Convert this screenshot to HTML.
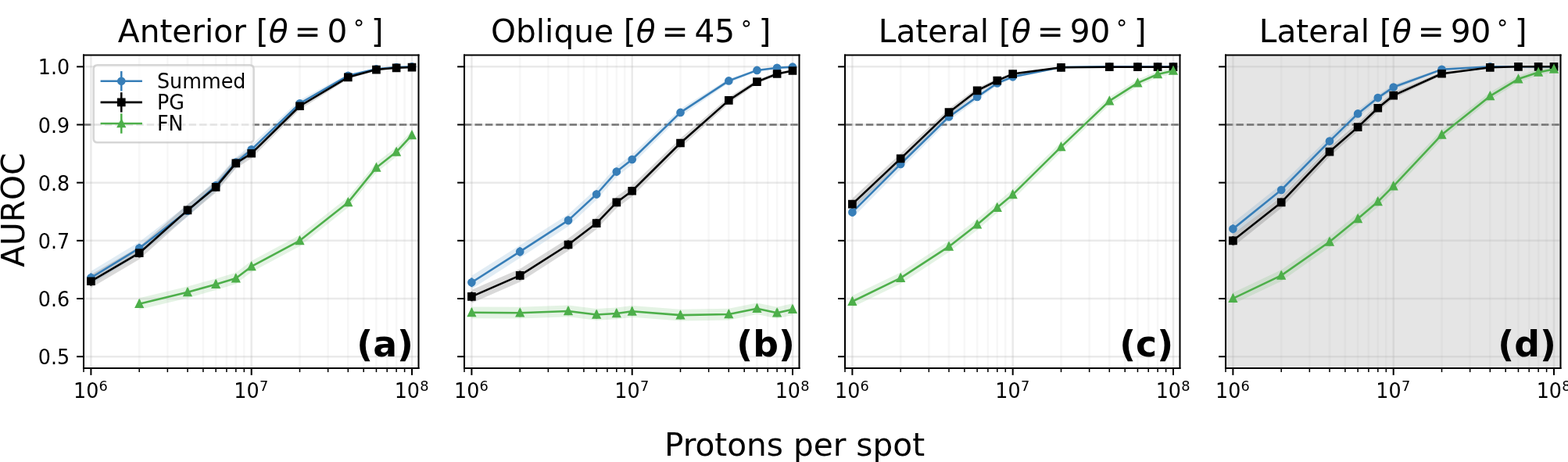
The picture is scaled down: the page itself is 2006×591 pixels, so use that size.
<!DOCTYPE html>
<html><head><meta charset="utf-8"><title>AUROC vs protons per spot</title>
<style>html,body{margin:0;padding:0;background:#fff;overflow:hidden;}svg{display:block;}</style>
</head><body>
<svg width="2006" height="591" viewBox="0 0 789.76378 232.677165" version="1.1">
<defs>
<style type="text/css">*{stroke-linejoin: round; stroke-linecap: butt}</style>
</defs>
<g id="figure_1">
<g id="patch_1">
<path d="M 0 232.677165
L 789.76378 232.677165
L 789.76378 0
L 0 0
z
" style="fill: #ffffff"/>
</g>
<g id="axes_1">
<g id="patch_2">
<path d="M 42.125984 185.433071
L 210.826772 185.433071
L 210.826772 27.755906
L 42.125984 27.755906
z
" style="fill: #ffffff"/>
</g>
<g id="line2d_1">
<path d="M 42.125984 62.795276
L 210.826772 62.795276
" clip-path="url(#pc32dbdda73)" style="fill: none; stroke-dasharray: 3.7,1.6; stroke-dashoffset: 0; stroke: #5f5f5f"/>
</g>
<g id="FillBetweenPolyCollection_1">
<defs>
<path id="m0ebc596f77" d="M 45.824484 -96.099709
L 45.824484 -89.490842
L 70.156225 -104.502099
L 94.487966 -123.552182
L 108.721122 -136.448893
L 118.819707 -148.351541
L 126.652778 -154.920042
L 150.984519 -178.891166
L 175.31626 -193.728619
L 189.549416 -197.459049
L 199.648001 -198.532714
L 207.481072 -198.944127
L 207.481072 -199.218602
L 207.481072 -199.218602
L 199.648001 -199.046026
L 189.549416 -198.367723
L 175.31626 -195.440672
L 150.984519 -182.246629
L 126.652778 -159.732189
L 118.819707 -153.452921
L 108.721122 -141.995989
L 94.487966 -129.489157
L 70.156225 -110.871917
L 45.824484 -96.099709
z
"/>
</defs>
<g clip-path="url(#pc32dbdda73)">
<use href="#m0ebc596f77" x="0" y="232.677165" style="fill: #377eb8; fill-opacity: 0.15"/>
</g>
</g>
<g id="FillBetweenPolyCollection_2">
<defs>
<path id="mf60cecff38" d="M 45.824484 -94.359092
L 45.824484 -87.727522
L 70.156225 -102.026723
L 94.487966 -123.848176
L 108.721122 -135.64708
L 118.819707 -147.874498
L 126.652778 -152.947619
L 150.984519 -177.49283
L 175.31626 -192.839596
L 189.549416 -197.118317
L 199.648001 -198.161494
L 207.481072 -198.532714
L 207.481072 -199.046026
L 207.481072 -199.046026
L 199.648001 -198.833257
L 189.549416 -198.124465
L 175.31626 -194.694525
L 150.984519 -180.958614
L 126.652778 -157.850281
L 118.819707 -152.995581
L 108.721122 -141.221031
L 94.487966 -129.777152
L 70.156225 -108.441781
L 45.824484 -94.359092
z
"/>
</defs>
<g clip-path="url(#pc32dbdda73)">
<use href="#mf60cecff38" x="0" y="232.677165" style="fill-opacity: 0.15"/>
</g>
</g>
<g id="FillBetweenPolyCollection_3">
<defs>
<path id="m2446808192" d="M 70.156225 -82.546199
L 70.156225 -76.764825
L 94.487966 -82.619177
L 108.721122 -86.631149
L 118.819707 -89.648401
L 126.652778 -95.626792
L 150.984519 -108.709255
L 175.31626 -128.103145
L 189.549416 -145.777923
L 199.648001 -153.749393
L 207.481072 -162.327607
L 207.481072 -166.924362
L 207.481072 -166.924362
L 199.648001 -158.56688
L 189.549416 -150.770633
L 175.31626 -133.406042
L 150.984519 -114.256624
L 126.652778 -101.293156
L 118.819707 -95.358161
L 108.721122 -92.360321
L 94.487966 -88.371637
L 70.156225 -82.546199
z
"/>
</defs>
<g clip-path="url(#pc32dbdda73)">
<use href="#m2446808192" x="0" y="232.677165" style="fill: #4daf4a; fill-opacity: 0.15"/>
</g>
</g>
<g id="matplotlib.axis_1">
<g id="xtick_1">
<g id="line2d_2">
<path d="M 45.824484 185.433071
L 45.824484 27.755906
" clip-path="url(#pc32dbdda73)" style="fill: none; stroke: #b0b0b0; stroke-opacity: 0.27; stroke-linecap: square"/>
</g>
<g id="line2d_3">
<defs>
<path id="m1504cfccaf" d="M 0 0
L 0 3.5
" style="stroke: #000000; stroke-width: 0.8"/>
</defs>
<g>
<use href="#m1504cfccaf" x="45.824484" y="185.433071" style="stroke: #000000; stroke-width: 0.8"/>
</g>
</g>
<g id="text_1">
<!-- $\mathdefault{10^{6}}$ -->
<g transform="translate(37.024484 200.031508) translate(0 -3.2828) scale(1 1.0300) translate(0 3.2828)">
<text>
<tspan x="0" y="0.3622" style="font-size: 10px; font-family: 'DejaVu Sans', sans-serif">1</tspan>
<tspan x="6.362305" y="0.3622" style="font-size: 10px; font-family: 'DejaVu Sans', sans-serif">0</tspan>
<tspan x="12.820312" y="-3.3159" style="font-size: 7px; font-family: 'DejaVu Sans', sans-serif">6</tspan>
</text>
</g>
</g>
</g>
<g id="xtick_2">
<g id="line2d_4">
<path d="M 126.652778 185.433071
L 126.652778 27.755906
" clip-path="url(#pc32dbdda73)" style="fill: none; stroke: #b0b0b0; stroke-opacity: 0.27; stroke-linecap: square"/>
</g>
<g id="line2d_5">
<g>
<use href="#m1504cfccaf" x="126.652778" y="185.433071" style="stroke: #000000; stroke-width: 0.8"/>
</g>
</g>
<g id="text_2">
<!-- $\mathdefault{10^{7}}$ -->
<g transform="translate(117.852778 200.031508) translate(0 -3.2828) scale(1 1.0300) translate(0 3.2828)">
<text>
<tspan x="0" y="0.3622" style="font-size: 10px; font-family: 'DejaVu Sans', sans-serif">1</tspan>
<tspan x="6.362305" y="0.3622" style="font-size: 10px; font-family: 'DejaVu Sans', sans-serif">0</tspan>
<tspan x="12.820312" y="-3.3159" style="font-size: 7px; font-family: 'DejaVu Sans', sans-serif">7</tspan>
</text>
</g>
</g>
</g>
<g id="xtick_3">
<g id="line2d_6">
<path d="M 207.481072 185.433071
L 207.481072 27.755906
" clip-path="url(#pc32dbdda73)" style="fill: none; stroke: #b0b0b0; stroke-opacity: 0.27; stroke-linecap: square"/>
</g>
<g id="line2d_7">
<g>
<use href="#m1504cfccaf" x="207.481072" y="185.433071" style="stroke: #000000; stroke-width: 0.8"/>
</g>
</g>
<g id="text_3">
<!-- $\mathdefault{10^{8}}$ -->
<g transform="translate(198.681072 200.031508) translate(0 -3.2828) scale(1 1.0300) translate(0 3.2828)">
<text>
<tspan x="0" y="0.3622" style="font-size: 10px; font-family: 'DejaVu Sans', sans-serif">1</tspan>
<tspan x="6.362305" y="0.3622" style="font-size: 10px; font-family: 'DejaVu Sans', sans-serif">0</tspan>
<tspan x="12.820312" y="-3.3159" style="font-size: 7px; font-family: 'DejaVu Sans', sans-serif">8</tspan>
</text>
</g>
</g>
</g>
<g id="xtick_4">
<g id="line2d_8">
<path d="M 42.125984 185.433071
L 42.125984 27.755906
" clip-path="url(#pc32dbdda73)" style="fill: none; stroke: #b0b0b0; stroke-opacity: 0.1; stroke-linecap: square"/>
</g>
<g id="line2d_9">
<defs>
<path id="m05db3bdf9b" d="M 0 0
L 0 2
" style="stroke: #000000; stroke-width: 0.6"/>
</defs>
<g>
<use href="#m05db3bdf9b" x="42.125984" y="185.433071" style="stroke: #000000; stroke-width: 0.6"/>
</g>
</g>
</g>
<g id="xtick_5">
<g id="line2d_10">
<path d="M 70.156225 185.433071
L 70.156225 27.755906
" clip-path="url(#pc32dbdda73)" style="fill: none; stroke: #b0b0b0; stroke-opacity: 0.1; stroke-linecap: square"/>
</g>
<g id="line2d_11">
<g>
<use href="#m05db3bdf9b" x="70.156225" y="185.433071" style="stroke: #000000; stroke-width: 0.6"/>
</g>
</g>
</g>
<g id="xtick_6">
<g id="line2d_12">
<path d="M 84.389381 185.433071
L 84.389381 27.755906
" clip-path="url(#pc32dbdda73)" style="fill: none; stroke: #b0b0b0; stroke-opacity: 0.1; stroke-linecap: square"/>
</g>
<g id="line2d_13">
<g>
<use href="#m05db3bdf9b" x="84.389381" y="185.433071" style="stroke: #000000; stroke-width: 0.6"/>
</g>
</g>
</g>
<g id="xtick_7">
<g id="line2d_14">
<path d="M 94.487966 185.433071
L 94.487966 27.755906
" clip-path="url(#pc32dbdda73)" style="fill: none; stroke: #b0b0b0; stroke-opacity: 0.1; stroke-linecap: square"/>
</g>
<g id="line2d_15">
<g>
<use href="#m05db3bdf9b" x="94.487966" y="185.433071" style="stroke: #000000; stroke-width: 0.6"/>
</g>
</g>
</g>
<g id="xtick_8">
<g id="line2d_16">
<path d="M 102.321037 185.433071
L 102.321037 27.755906
" clip-path="url(#pc32dbdda73)" style="fill: none; stroke: #b0b0b0; stroke-opacity: 0.1; stroke-linecap: square"/>
</g>
<g id="line2d_17">
<g>
<use href="#m05db3bdf9b" x="102.321037" y="185.433071" style="stroke: #000000; stroke-width: 0.6"/>
</g>
</g>
</g>
<g id="xtick_9">
<g id="line2d_18">
<path d="M 108.721122 185.433071
L 108.721122 27.755906
" clip-path="url(#pc32dbdda73)" style="fill: none; stroke: #b0b0b0; stroke-opacity: 0.1; stroke-linecap: square"/>
</g>
<g id="line2d_19">
<g>
<use href="#m05db3bdf9b" x="108.721122" y="185.433071" style="stroke: #000000; stroke-width: 0.6"/>
</g>
</g>
</g>
<g id="xtick_10">
<g id="line2d_20">
<path d="M 114.132317 185.433071
L 114.132317 27.755906
" clip-path="url(#pc32dbdda73)" style="fill: none; stroke: #b0b0b0; stroke-opacity: 0.1; stroke-linecap: square"/>
</g>
<g id="line2d_21">
<g>
<use href="#m05db3bdf9b" x="114.132317" y="185.433071" style="stroke: #000000; stroke-width: 0.6"/>
</g>
</g>
</g>
<g id="xtick_11">
<g id="line2d_22">
<path d="M 118.819707 185.433071
L 118.819707 27.755906
" clip-path="url(#pc32dbdda73)" style="fill: none; stroke: #b0b0b0; stroke-opacity: 0.1; stroke-linecap: square"/>
</g>
<g id="line2d_23">
<g>
<use href="#m05db3bdf9b" x="118.819707" y="185.433071" style="stroke: #000000; stroke-width: 0.6"/>
</g>
</g>
</g>
<g id="xtick_12">
<g id="line2d_24">
<path d="M 122.954278 185.433071
L 122.954278 27.755906
" clip-path="url(#pc32dbdda73)" style="fill: none; stroke: #b0b0b0; stroke-opacity: 0.1; stroke-linecap: square"/>
</g>
<g id="line2d_25">
<g>
<use href="#m05db3bdf9b" x="122.954278" y="185.433071" style="stroke: #000000; stroke-width: 0.6"/>
</g>
</g>
</g>
<g id="xtick_13">
<g id="line2d_26">
<path d="M 150.984519 185.433071
L 150.984519 27.755906
" clip-path="url(#pc32dbdda73)" style="fill: none; stroke: #b0b0b0; stroke-opacity: 0.1; stroke-linecap: square"/>
</g>
<g id="line2d_27">
<g>
<use href="#m05db3bdf9b" x="150.984519" y="185.433071" style="stroke: #000000; stroke-width: 0.6"/>
</g>
</g>
</g>
<g id="xtick_14">
<g id="line2d_28">
<path d="M 165.217675 185.433071
L 165.217675 27.755906
" clip-path="url(#pc32dbdda73)" style="fill: none; stroke: #b0b0b0; stroke-opacity: 0.1; stroke-linecap: square"/>
</g>
<g id="line2d_29">
<g>
<use href="#m05db3bdf9b" x="165.217675" y="185.433071" style="stroke: #000000; stroke-width: 0.6"/>
</g>
</g>
</g>
<g id="xtick_15">
<g id="line2d_30">
<path d="M 175.31626 185.433071
L 175.31626 27.755906
" clip-path="url(#pc32dbdda73)" style="fill: none; stroke: #b0b0b0; stroke-opacity: 0.1; stroke-linecap: square"/>
</g>
<g id="line2d_31">
<g>
<use href="#m05db3bdf9b" x="175.31626" y="185.433071" style="stroke: #000000; stroke-width: 0.6"/>
</g>
</g>
</g>
<g id="xtick_16">
<g id="line2d_32">
<path d="M 183.149331 185.433071
L 183.149331 27.755906
" clip-path="url(#pc32dbdda73)" style="fill: none; stroke: #b0b0b0; stroke-opacity: 0.1; stroke-linecap: square"/>
</g>
<g id="line2d_33">
<g>
<use href="#m05db3bdf9b" x="183.149331" y="185.433071" style="stroke: #000000; stroke-width: 0.6"/>
</g>
</g>
</g>
<g id="xtick_17">
<g id="line2d_34">
<path d="M 189.549416 185.433071
L 189.549416 27.755906
" clip-path="url(#pc32dbdda73)" style="fill: none; stroke: #b0b0b0; stroke-opacity: 0.1; stroke-linecap: square"/>
</g>
<g id="line2d_35">
<g>
<use href="#m05db3bdf9b" x="189.549416" y="185.433071" style="stroke: #000000; stroke-width: 0.6"/>
</g>
</g>
</g>
<g id="xtick_18">
<g id="line2d_36">
<path d="M 194.96061 185.433071
L 194.96061 27.755906
" clip-path="url(#pc32dbdda73)" style="fill: none; stroke: #b0b0b0; stroke-opacity: 0.1; stroke-linecap: square"/>
</g>
<g id="line2d_37">
<g>
<use href="#m05db3bdf9b" x="194.96061" y="185.433071" style="stroke: #000000; stroke-width: 0.6"/>
</g>
</g>
</g>
<g id="xtick_19">
<g id="line2d_38">
<path d="M 199.648001 185.433071
L 199.648001 27.755906
" clip-path="url(#pc32dbdda73)" style="fill: none; stroke: #b0b0b0; stroke-opacity: 0.1; stroke-linecap: square"/>
</g>
<g id="line2d_39">
<g>
<use href="#m05db3bdf9b" x="199.648001" y="185.433071" style="stroke: #000000; stroke-width: 0.6"/>
</g>
</g>
</g>
<g id="xtick_20">
<g id="line2d_40">
<path d="M 203.782572 185.433071
L 203.782572 27.755906
" clip-path="url(#pc32dbdda73)" style="fill: none; stroke: #b0b0b0; stroke-opacity: 0.1; stroke-linecap: square"/>
</g>
<g id="line2d_41">
<g>
<use href="#m05db3bdf9b" x="203.782572" y="185.433071" style="stroke: #000000; stroke-width: 0.6"/>
</g>
</g>
</g>
</g>
<g id="matplotlib.axis_2">
<g id="ytick_1">
<g id="line2d_42">
<path d="M 42.125984 179.593176
L 210.826772 179.593176
" clip-path="url(#pc32dbdda73)" style="fill: none; stroke: #b0b0b0; stroke-opacity: 0.27; stroke-linecap: square"/>
</g>
<g id="line2d_43">
<defs>
<path id="m5d545ce8f8" d="M 0 0
L -3.5 0
" style="stroke: #000000; stroke-width: 0.8"/>
</defs>
<g>
<use href="#m5d545ce8f8" x="42.125984" y="179.593176" style="stroke: #000000; stroke-width: 0.8"/>
</g>
</g>
<g id="text_4">
<text style="font-size: 10px; font-family: 'DejaVu Sans', 'Liberation Sans', sans-serif; text-anchor: end" x="35.125984" y="183.392395" transform="translate(0 179.7474) scale(1 1.0450) translate(0 -179.7474)">0.5</text>
</g>
</g>
<g id="ytick_2">
<g id="line2d_44">
<path d="M 42.125984 150.393701
L 210.826772 150.393701
" clip-path="url(#pc32dbdda73)" style="fill: none; stroke: #b0b0b0; stroke-opacity: 0.27; stroke-linecap: square"/>
</g>
<g id="line2d_45">
<g>
<use href="#m5d545ce8f8" x="42.125984" y="150.393701" style="stroke: #000000; stroke-width: 0.8"/>
</g>
</g>
<g id="text_5">
<text style="font-size: 10px; font-family: 'DejaVu Sans', 'Liberation Sans', sans-serif; text-anchor: end" x="35.125984" y="154.19292" transform="translate(0 150.5479) scale(1 1.0450) translate(0 -150.5479)">0.6</text>
</g>
</g>
<g id="ytick_3">
<g id="line2d_46">
<path d="M 42.125984 121.194226
L 210.826772 121.194226
" clip-path="url(#pc32dbdda73)" style="fill: none; stroke: #b0b0b0; stroke-opacity: 0.27; stroke-linecap: square"/>
</g>
<g id="line2d_47">
<g>
<use href="#m5d545ce8f8" x="42.125984" y="121.194226" style="stroke: #000000; stroke-width: 0.8"/>
</g>
</g>
<g id="text_6">
<text style="font-size: 10px; font-family: 'DejaVu Sans', 'Liberation Sans', sans-serif; text-anchor: end" x="35.125984" y="124.993444" transform="translate(0 121.3484) scale(1 1.0450) translate(0 -121.3484)">0.7</text>
</g>
</g>
<g id="ytick_4">
<g id="line2d_48">
<path d="M 42.125984 91.994751
L 210.826772 91.994751
" clip-path="url(#pc32dbdda73)" style="fill: none; stroke: #b0b0b0; stroke-opacity: 0.27; stroke-linecap: square"/>
</g>
<g id="line2d_49">
<g>
<use href="#m5d545ce8f8" x="42.125984" y="91.994751" style="stroke: #000000; stroke-width: 0.8"/>
</g>
</g>
<g id="text_7">
<text style="font-size: 10px; font-family: 'DejaVu Sans', 'Liberation Sans', sans-serif; text-anchor: end" x="35.125984" y="95.793969" transform="translate(0 92.1490) scale(1 1.0450) translate(0 -92.1490)">0.8</text>
</g>
</g>
<g id="ytick_5">
<g id="line2d_50">
<path d="M 42.125984 62.795276
L 210.826772 62.795276
" clip-path="url(#pc32dbdda73)" style="fill: none; stroke: #b0b0b0; stroke-opacity: 0.27; stroke-linecap: square"/>
</g>
<g id="line2d_51">
<g>
<use href="#m5d545ce8f8" x="42.125984" y="62.795276" style="stroke: #000000; stroke-width: 0.8"/>
</g>
</g>
<g id="text_8">
<text style="font-size: 10px; font-family: 'DejaVu Sans', 'Liberation Sans', sans-serif; text-anchor: end" x="35.125984" y="66.594494" transform="translate(0 62.9495) scale(1 1.0450) translate(0 -62.9495)">0.9</text>
</g>
</g>
<g id="ytick_6">
<g id="line2d_52">
<path d="M 42.125984 33.595801
L 210.826772 33.595801
" clip-path="url(#pc32dbdda73)" style="fill: none; stroke: #b0b0b0; stroke-opacity: 0.27; stroke-linecap: square"/>
</g>
<g id="line2d_53">
<g>
<use href="#m5d545ce8f8" x="42.125984" y="33.595801" style="stroke: #000000; stroke-width: 0.8"/>
</g>
</g>
<g id="text_9">
<text style="font-size: 10px; font-family: 'DejaVu Sans', 'Liberation Sans', sans-serif; text-anchor: end" x="35.125984" y="37.395019" transform="translate(0 33.7500) scale(1 1.0450) translate(0 -33.7500)">1.0</text>
</g>
</g>
<g id="ylabel" transform="translate(0.118 -0.787)">
<text style="font-size: 16px; font-family: 'DejaVu Sans', 'Liberation Sans', sans-serif; text-anchor: middle" x="11.895359" y="106.594488" transform="rotate(-90 11.895359 106.594488)">AUROC</text>
</g>
</g>
<g id="LineCollection_1">
<path d="M 45.824484 142.194993
L 45.824484 137.568786
" clip-path="url(#pc32dbdda73)" style="fill: none; stroke: #377eb8"/>
<path d="M 70.156225 127.219594
L 70.156225 122.760721
" clip-path="url(#pc32dbdda73)" style="fill: none; stroke: #377eb8"/>
<path d="M 94.487966 108.234437
L 94.487966 104.078555
" clip-path="url(#pc32dbdda73)" style="fill: none; stroke: #377eb8"/>
<path d="M 108.721122 95.396208
L 108.721122 91.513241
" clip-path="url(#pc32dbdda73)" style="fill: none; stroke: #377eb8"/>
<path d="M 118.819707 83.560417
L 118.819707 79.989452
" clip-path="url(#pc32dbdda73)" style="fill: none; stroke: #377eb8"/>
<path d="M 126.652778 77.035302
L 126.652778 73.666798
" clip-path="url(#pc32dbdda73)" style="fill: none; stroke: #377eb8"/>
<path d="M 150.984519 53.28268
L 150.984519 50.933856
" clip-path="url(#pc32dbdda73)" style="fill: none; stroke: #377eb8"/>
<path d="M 175.31626 38.691738
L 175.31626 37.493301
" clip-path="url(#pc32dbdda73)" style="fill: none; stroke: #377eb8"/>
<path d="M 189.549416 35.081815
L 189.549416 34.445744
" clip-path="url(#pc32dbdda73)" style="fill: none; stroke: #377eb8"/>
<path d="M 199.648001 34.067455
L 199.648001 33.708136
" clip-path="url(#pc32dbdda73)" style="fill: none; stroke: #377eb8"/>
<path d="M 207.481072 33.691867
L 207.481072 33.499734
" clip-path="url(#pc32dbdda73)" style="fill: none; stroke: #377eb8"/>
</g>
<g id="LineCollection_2">
<path d="M 45.824484 143.954908
L 45.824484 139.312809
" clip-path="url(#pc32dbdda73)" style="fill: none; stroke: #000000"/>
<path d="M 70.156225 129.688184
L 70.156225 125.197643
" clip-path="url(#pc32dbdda73)" style="fill: none; stroke: #000000"/>
<path d="M 94.487966 107.939643
L 94.487966 103.78936
" clip-path="url(#pc32dbdda73)" style="fill: none; stroke: #000000"/>
<path d="M 108.721122 96.193993
L 108.721122 92.292227
" clip-path="url(#pc32dbdda73)" style="fill: none; stroke: #000000"/>
<path d="M 118.819707 84.034505
L 118.819707 80.449747
" clip-path="url(#pc32dbdda73)" style="fill: none; stroke: #000000"/>
<path d="M 126.652778 78.994147
L 126.652778 75.562283
" clip-path="url(#pc32dbdda73)" style="fill: none; stroke: #000000"/>
<path d="M 150.984519 54.664468
L 150.984519 52.238419
" clip-path="url(#pc32dbdda73)" style="fill: none; stroke: #000000"/>
<path d="M 175.31626 39.55933
L 175.31626 38.26088
" clip-path="url(#pc32dbdda73)" style="fill: none; stroke: #000000"/>
<path d="M 189.549416 35.407926
L 189.549416 34.703622
" clip-path="url(#pc32dbdda73)" style="fill: none; stroke: #000000"/>
<path d="M 199.648001 34.414907
L 199.648001 33.944673
" clip-path="url(#pc32dbdda73)" style="fill: none; stroke: #000000"/>
<path d="M 207.481072 34.067455
L 207.481072 33.708136
" clip-path="url(#pc32dbdda73)" style="fill: none; stroke: #000000"/>
</g>
<g id="LineCollection_3">
<path clip-path="url(#pc32dbdda73)" style="fill: none; stroke: #4daf4a"/>
<path d="M 70.156225 155.045134
L 70.156225 150.998173
" clip-path="url(#pc32dbdda73)" style="fill: none; stroke: #4daf4a"/>
<path d="M 94.487966 149.19512
L 94.487966 145.168397
" clip-path="url(#pc32dbdda73)" style="fill: none; stroke: #4daf4a"/>
<path d="M 108.721122 145.186641
L 108.721122 141.17622
" clip-path="url(#pc32dbdda73)" style="fill: none; stroke: #4daf4a"/>
<path d="M 118.819707 142.1723
L 118.819707 138.175469
" clip-path="url(#pc32dbdda73)" style="fill: none; stroke: #4daf4a"/>
<path d="M 126.652778 136.200419
L 126.652778 132.233964
" clip-path="url(#pc32dbdda73)" style="fill: none; stroke: #4daf4a"/>
<path d="M 150.984519 123.135805
L 150.984519 119.252646
" clip-path="url(#pc32dbdda73)" style="fill: none; stroke: #4daf4a"/>
<path d="M 175.31626 103.778586
L 175.31626 100.066558
" clip-path="url(#pc32dbdda73)" style="fill: none; stroke: #4daf4a"/>
<path d="M 189.549416 86.150335
L 189.549416 82.655439
" clip-path="url(#pc32dbdda73)" style="fill: none; stroke: #4daf4a"/>
<path d="M 199.648001 78.20515
L 199.648001 74.832908
" clip-path="url(#pc32dbdda73)" style="fill: none; stroke: #4daf4a"/>
<path d="M 207.481072 69.660045
L 207.481072 66.442317
" clip-path="url(#pc32dbdda73)" style="fill: none; stroke: #4daf4a"/>
</g>
<g id="line2d_54">
<path d="M 45.824484 139.88189
L 70.156225 124.990157
L 94.487966 106.156496
L 108.721122 93.454724
L 118.819707 81.774934
L 126.652778 75.35105
L 150.984519 52.108268
L 175.31626 38.09252
L 189.549416 34.76378
L 199.648001 33.887795
L 207.481072 33.595801
" clip-path="url(#pc32dbdda73)" style="fill: none; stroke: #377eb8; stroke-linecap: square"/>
<defs>
<path id="mbeab2f4ac7" d="M 0 1.6
C 0.424325 1.6 0.831328 1.431414 1.131371 1.131371
C 1.431414 0.831328 1.6 0.424325 1.6 0
C 1.6 -0.424325 1.431414 -0.831328 1.131371 -1.131371
C 0.831328 -1.431414 0.424325 -1.6 0 -1.6
C -0.424325 -1.6 -0.831328 -1.431414 -1.131371 -1.131371
C -1.431414 -0.831328 -1.6 -0.424325 -1.6 0
C -1.6 0.424325 -1.431414 0.831328 -1.131371 1.131371
C -0.831328 1.431414 -0.424325 1.6 0 1.6
z
" style="stroke: #377eb8"/>
</defs>
<g clip-path="url(#pc32dbdda73)">
<use href="#mbeab2f4ac7" x="45.824484" y="139.88189" style="fill: #377eb8; stroke: #377eb8"/>
<use href="#mbeab2f4ac7" x="70.156225" y="124.990157" style="fill: #377eb8; stroke: #377eb8"/>
<use href="#mbeab2f4ac7" x="94.487966" y="106.156496" style="fill: #377eb8; stroke: #377eb8"/>
<use href="#mbeab2f4ac7" x="108.721122" y="93.454724" style="fill: #377eb8; stroke: #377eb8"/>
<use href="#mbeab2f4ac7" x="118.819707" y="81.774934" style="fill: #377eb8; stroke: #377eb8"/>
<use href="#mbeab2f4ac7" x="126.652778" y="75.35105" style="fill: #377eb8; stroke: #377eb8"/>
<use href="#mbeab2f4ac7" x="150.984519" y="52.108268" style="fill: #377eb8; stroke: #377eb8"/>
<use href="#mbeab2f4ac7" x="175.31626" y="38.09252" style="fill: #377eb8; stroke: #377eb8"/>
<use href="#mbeab2f4ac7" x="189.549416" y="34.76378" style="fill: #377eb8; stroke: #377eb8"/>
<use href="#mbeab2f4ac7" x="199.648001" y="33.887795" style="fill: #377eb8; stroke: #377eb8"/>
<use href="#mbeab2f4ac7" x="207.481072" y="33.595801" style="fill: #377eb8; stroke: #377eb8"/>
</g>
</g>
<g id="line2d_55">
<path d="M 45.824484 141.633858
L 70.156225 127.442913
L 94.487966 105.864501
L 108.721122 94.24311
L 118.819707 82.242126
L 126.652778 77.278215
L 150.984519 53.451444
L 175.31626 38.910105
L 189.549416 35.055774
L 199.648001 34.17979
L 207.481072 33.887795
" clip-path="url(#pc32dbdda73)" style="fill: none; stroke: #000000; stroke-linecap: square"/>
<defs>
<path id="m93d858a820" d="M -1.6 1.6
L 1.6 1.6
L 1.6 -1.6
L -1.6 -1.6
z
" style="stroke: #000000; stroke-linejoin: miter"/>
</defs>
<g clip-path="url(#pc32dbdda73)">
<use href="#m93d858a820" x="45.824484" y="141.633858" style="stroke: #000000; stroke-linejoin: miter"/>
<use href="#m93d858a820" x="70.156225" y="127.442913" style="stroke: #000000; stroke-linejoin: miter"/>
<use href="#m93d858a820" x="94.487966" y="105.864501" style="stroke: #000000; stroke-linejoin: miter"/>
<use href="#m93d858a820" x="108.721122" y="94.24311" style="stroke: #000000; stroke-linejoin: miter"/>
<use href="#m93d858a820" x="118.819707" y="82.242126" style="stroke: #000000; stroke-linejoin: miter"/>
<use href="#m93d858a820" x="126.652778" y="77.278215" style="stroke: #000000; stroke-linejoin: miter"/>
<use href="#m93d858a820" x="150.984519" y="53.451444" style="stroke: #000000; stroke-linejoin: miter"/>
<use href="#m93d858a820" x="175.31626" y="38.910105" style="stroke: #000000; stroke-linejoin: miter"/>
<use href="#m93d858a820" x="189.549416" y="35.055774" style="stroke: #000000; stroke-linejoin: miter"/>
<use href="#m93d858a820" x="199.648001" y="34.17979" style="stroke: #000000; stroke-linejoin: miter"/>
<use href="#m93d858a820" x="207.481072" y="33.887795" style="stroke: #000000; stroke-linejoin: miter"/>
</g>
</g>
<g id="line2d_56">
<path d="M 70.156225 153.021654
L 94.487966 147.181759
L 108.721122 143.18143
L 118.819707 140.173885
L 126.652778 134.217192
L 150.984519 121.194226
L 175.31626 101.922572
L 189.549416 84.402887
L 199.648001 76.519029
L 207.481072 68.051181
" clip-path="url(#pc32dbdda73)" style="fill: none; stroke: #4daf4a; stroke-linecap: square"/>
<defs>
<path id="me54bdaed13" d="M 0 -1.6
L -1.6 1.6
L 1.6 1.6
z
" style="stroke: #4daf4a; stroke-linejoin: miter"/>
</defs>
<g clip-path="url(#pc32dbdda73)">
<use href="#me54bdaed13" x="70.156225" y="153.021654" style="fill: #4daf4a; stroke: #4daf4a; stroke-linejoin: miter"/>
<use href="#me54bdaed13" x="94.487966" y="147.181759" style="fill: #4daf4a; stroke: #4daf4a; stroke-linejoin: miter"/>
<use href="#me54bdaed13" x="108.721122" y="143.18143" style="fill: #4daf4a; stroke: #4daf4a; stroke-linejoin: miter"/>
<use href="#me54bdaed13" x="118.819707" y="140.173885" style="fill: #4daf4a; stroke: #4daf4a; stroke-linejoin: miter"/>
<use href="#me54bdaed13" x="126.652778" y="134.217192" style="fill: #4daf4a; stroke: #4daf4a; stroke-linejoin: miter"/>
<use href="#me54bdaed13" x="150.984519" y="121.194226" style="fill: #4daf4a; stroke: #4daf4a; stroke-linejoin: miter"/>
<use href="#me54bdaed13" x="175.31626" y="101.922572" style="fill: #4daf4a; stroke: #4daf4a; stroke-linejoin: miter"/>
<use href="#me54bdaed13" x="189.549416" y="84.402887" style="fill: #4daf4a; stroke: #4daf4a; stroke-linejoin: miter"/>
<use href="#me54bdaed13" x="199.648001" y="76.519029" style="fill: #4daf4a; stroke: #4daf4a; stroke-linejoin: miter"/>
<use href="#me54bdaed13" x="207.481072" y="68.051181" style="fill: #4daf4a; stroke: #4daf4a; stroke-linejoin: miter"/>
</g>
</g>
<g id="patch_3">
<path d="M 42.125984 185.433071
L 42.125984 27.755906
" style="fill: none; stroke: #000000; stroke-width: 0.8; stroke-linejoin: miter; stroke-linecap: square"/>
</g>
<g id="patch_4">
<path d="M 210.826772 185.433071
L 210.826772 27.755906
" style="fill: none; stroke: #000000; stroke-width: 0.8; stroke-linejoin: miter; stroke-linecap: square"/>
</g>
<g id="patch_5">
<path d="M 42.125984 185.433071
L 210.826772 185.433071
" style="fill: none; stroke: #000000; stroke-width: 0.8; stroke-linejoin: miter; stroke-linecap: square"/>
</g>
<g id="patch_6">
<path d="M 42.125984 27.755906
L 210.826772 27.755906
" style="fill: none; stroke: #000000; stroke-width: 0.8; stroke-linejoin: miter; stroke-linecap: square"/>
</g>
<g id="title_a" transform="translate(-0.197 0.236)">
<!-- Anterior [$\theta = 0^\circ$] -->
<g transform="translate(59.596378 21.755906)">
<text>
<tspan x="0" y="-0.71875" style="font-size: 16px; font-family: 'DejaVu Sans', sans-serif">A</tspan>
<tspan x="10.945312" y="-0.71875" style="font-size: 16px; font-family: 'DejaVu Sans', sans-serif">n</tspan>
<tspan x="21.085938" y="-0.71875" style="font-size: 16px; font-family: 'DejaVu Sans', sans-serif">t</tspan>
<tspan x="27.359375" y="-0.71875" style="font-size: 16px; font-family: 'DejaVu Sans', sans-serif">e</tspan>
<tspan x="37.203125" y="-0.71875" style="font-size: 16px; font-family: 'DejaVu Sans', sans-serif">r</tspan>
<tspan x="43.78125" y="-0.71875" style="font-size: 16px; font-family: 'DejaVu Sans', sans-serif">i</tspan>
<tspan x="48.226562" y="-0.71875" style="font-size: 16px; font-family: 'DejaVu Sans', sans-serif">o</tspan>
<tspan x="58.015625" y="-0.71875" style="font-size: 16px; font-family: 'DejaVu Sans', sans-serif">r</tspan>
<tspan x="64.59375" y="-0.71875" style="font-size: 16px; font-family: 'DejaVu Sans', sans-serif"> </tspan>
<tspan x="69.679688" y="-0.71875" style="font-size: 16px; font-family: 'DejaVu Sans', sans-serif">[</tspan>
<tspan x="88.828125" y="-0.71875" style="font-size: 16px; font-family: 'DejaVu Sans', sans-serif">=</tspan>
<tspan x="105.351562" y="-0.71875" style="font-size: 16px; font-family: 'DejaVu Sans', sans-serif">0</tspan>
<tspan x="127.496875" y="-0.71875" style="font-size: 16px; font-family: 'DejaVu Sans', sans-serif">]</tspan>
<tspan x="75.921875" y="-0.71875" style="font-style: oblique; font-size: 16px; font-family: 'DejaVu Sans', sans-serif">θ</tspan>
<tspan x="117.866406" y="-6.84375" style="font-size: 11.2px; font-family: 'DejaVu Sans', sans-serif">∘</tspan>
</text>
</g>
</g>
<g id="legend_1">
<g id="patch_7">
<path d="M 49.125984 71.790281
L 125.794734 71.790281
Q 127.794734 71.790281 127.794734 69.790281
L 127.794734 34.755906
Q 127.794734 32.755906 125.794734 32.755906
L 49.125984 32.755906
Q 47.125984 32.755906 47.125984 34.755906
L 47.125984 69.790281
Q 47.125984 71.790281 49.125984 71.790281
z
" style="fill: #ffffff; opacity: 0.8; stroke: #cccccc; stroke-linejoin: miter"/>
</g>
<g id="LineCollection_4">
<path d="M 61.125984 45.854343
L 61.125984 35.854343
" style="fill: none; stroke: #377eb8"/>
</g>
<g id="line2d_57">
<path d="M 51.125984 40.854343
L 71.125984 40.854343
" style="fill: none; stroke: #377eb8; stroke-linecap: square"/>
</g>
<g id="line2d_58">
<g>
<use href="#mbeab2f4ac7" x="61.125984" y="40.854343" style="fill: #377eb8; stroke: #377eb8"/>
</g>
</g>
<g id="text_10">
<text style="font-size: 10px; font-family: 'DejaVu Sans', 'Liberation Sans', sans-serif; text-anchor: start" x="79.125984" y="44.354343" transform="translate(0 40.7093) scale(1 1.0450) translate(0 -40.7093)">Summed</text>
</g>
<g id="LineCollection_5">
<path d="M 61.125984 56.532468
L 61.125984 46.532468
" style="fill: none; stroke: #000000"/>
</g>
<g id="line2d_59">
<path d="M 51.125984 51.532468
L 71.125984 51.532468
" style="fill: none; stroke: #000000; stroke-linecap: square"/>
</g>
<g id="line2d_60">
<g>
<use href="#m93d858a820" x="61.125984" y="51.532468" style="stroke: #000000; stroke-linejoin: miter"/>
</g>
</g>
<g id="text_11">
<text style="font-size: 10px; font-family: 'DejaVu Sans', 'Liberation Sans', sans-serif; text-anchor: start" x="79.125984" y="55.032468" transform="translate(0 51.3875) scale(1 1.0450) translate(0 -51.3875)">PG</text>
</g>
<g id="LineCollection_6">
<path d="M 61.125984 67.210593
L 61.125984 57.210593
" style="fill: none; stroke: #4daf4a"/>
</g>
<g id="line2d_61">
<path d="M 51.125984 62.210593
L 71.125984 62.210593
" style="fill: none; stroke: #4daf4a; stroke-linecap: square"/>
</g>
<g id="line2d_62">
<g>
<use href="#me54bdaed13" x="61.125984" y="62.210593" style="fill: #4daf4a; stroke: #4daf4a; stroke-linejoin: miter"/>
</g>
</g>
<g id="text_12">
<text style="font-size: 10px; font-family: 'DejaVu Sans', 'Liberation Sans', sans-serif; text-anchor: start" x="79.125984" y="65.710593" transform="translate(0 62.0656) scale(1 1.0450) translate(0 -62.0656)">FN</text>
</g>
</g>
</g>
<g id="axes_2">
<g id="patch_8">
<path d="M 233.858268 185.433071
L 402.559055 185.433071
L 402.559055 27.755906
L 233.858268 27.755906
z
" style="fill: #ffffff"/>
</g>
<g id="line2d_63">
<path d="M 233.858268 62.795276
L 402.559055 62.795276
" clip-path="url(#p52d056ecf1)" style="fill: none; stroke-dasharray: 3.7,1.6; stroke-dashoffset: 0; stroke: #5f5f5f"/>
</g>
<g id="FillBetweenPolyCollection_4">
<defs>
<path id="m828e99c416" d="M 237.556768 -93.778764
L 237.556768 -87.139871
L 261.888509 -102.733851
L 286.220249 -118.671274
L 300.453405 -131.996702
L 310.55199 -143.584806
L 318.385061 -149.842859
L 342.716802 -174.157785
L 367.048543 -190.889133
L 381.281699 -196.715162
L 391.380284 -198.161494
L 399.213355 -198.72954
L 399.213355 -199.141195
L 399.213355 -199.141195
L 391.380284 -198.833257
L 381.281699 -197.826833
L 367.048543 -193.024253
L 342.716802 -177.869774
L 318.385061 -154.881551
L 310.55199 -148.875824
L 300.453405 -137.688338
L 286.220249 -124.734238
L 261.888509 -109.136228
L 237.556768 -93.778764
z
"/>
</defs>
<g clip-path="url(#p52d056ecf1)">
<use href="#m828e99c416" x="0" y="232.677165" style="fill: #377eb8; fill-opacity: 0.15"/>
</g>
</g>
<g id="FillBetweenPolyCollection_5">
<defs>
<path id="m22420530aa" d="M 237.556768 -86.693932
L 237.556768 -79.975359
L 261.888509 -90.666696
L 286.220249 -106.270966
L 300.453405 -117.193297
L 310.55199 -127.846226
L 318.385061 -133.687873
L 342.716802 -158.30116
L 367.048543 -180.53589
L 381.281699 -190.388945
L 391.380284 -194.688974
L 399.213355 -196.449078
L 399.213355 -197.625725
L 399.213355 -197.625725
L 391.380284 -196.232286
L 381.281699 -192.590057
L 367.048543 -183.755449
L 342.716802 -162.950153
L 318.385061 -139.325906
L 310.55199 -133.662961
L 300.453405 -123.292267
L 286.220249 -112.606987
L 261.888509 -97.259813
L 237.556768 -86.693932
z
"/>
</defs>
<g clip-path="url(#p52d056ecf1)">
<use href="#m22420530aa" x="0" y="232.677165" style="fill-opacity: 0.15"/>
</g>
</g>
<g id="FillBetweenPolyCollection_6">
<defs>
<path id="m6e46076ad2" d="M 237.556768 -78.175181
L 237.556768 -72.376
L 261.888509 -72.229734
L 286.220249 -73.107357
L 300.453405 -71.352177
L 310.55199 -71.937208
L 318.385061 -72.961082
L 342.716802 -71.059672
L 367.048543 -71.498432
L 381.281699 -74.365397
L 391.380284 -72.229734
L 399.213355 -73.985045
L 399.213355 -79.778078
L 399.213355 -79.778078
L 391.380284 -78.029452
L 381.281699 -80.156913
L 367.048543 -77.300781
L 342.716802 -76.863556
L 318.385061 -78.758078
L 310.55199 -77.737989
L 300.453405 -77.155041
L 286.220249 -78.903798
L 261.888509 -78.029452
L 237.556768 -78.175181
z
"/>
</defs>
<g clip-path="url(#p52d056ecf1)">
<use href="#m6e46076ad2" x="0" y="232.677165" style="fill: #4daf4a; fill-opacity: 0.15"/>
</g>
</g>
<g id="matplotlib.axis_3">
<g id="xtick_21">
<g id="line2d_64">
<path d="M 237.556768 185.433071
L 237.556768 27.755906
" clip-path="url(#p52d056ecf1)" style="fill: none; stroke: #b0b0b0; stroke-opacity: 0.27; stroke-linecap: square"/>
</g>
<g id="line2d_65">
<g>
<use href="#m1504cfccaf" x="237.556768" y="185.433071" style="stroke: #000000; stroke-width: 0.8"/>
</g>
</g>
<g id="text_13">
<!-- $\mathdefault{10^{6}}$ -->
<g transform="translate(228.756768 200.031508) translate(0 -3.2828) scale(1 1.0300) translate(0 3.2828)">
<text>
<tspan x="0" y="0.3622" style="font-size: 10px; font-family: 'DejaVu Sans', sans-serif">1</tspan>
<tspan x="6.362305" y="0.3622" style="font-size: 10px; font-family: 'DejaVu Sans', sans-serif">0</tspan>
<tspan x="12.820312" y="-3.3159" style="font-size: 7px; font-family: 'DejaVu Sans', sans-serif">6</tspan>
</text>
</g>
</g>
</g>
<g id="xtick_22">
<g id="line2d_66">
<path d="M 318.385061 185.433071
L 318.385061 27.755906
" clip-path="url(#p52d056ecf1)" style="fill: none; stroke: #b0b0b0; stroke-opacity: 0.27; stroke-linecap: square"/>
</g>
<g id="line2d_67">
<g>
<use href="#m1504cfccaf" x="318.385061" y="185.433071" style="stroke: #000000; stroke-width: 0.8"/>
</g>
</g>
<g id="text_14">
<!-- $\mathdefault{10^{7}}$ -->
<g transform="translate(309.585061 200.031508) translate(0 -3.2828) scale(1 1.0300) translate(0 3.2828)">
<text>
<tspan x="0" y="0.3622" style="font-size: 10px; font-family: 'DejaVu Sans', sans-serif">1</tspan>
<tspan x="6.362305" y="0.3622" style="font-size: 10px; font-family: 'DejaVu Sans', sans-serif">0</tspan>
<tspan x="12.820312" y="-3.3159" style="font-size: 7px; font-family: 'DejaVu Sans', sans-serif">7</tspan>
</text>
</g>
</g>
</g>
<g id="xtick_23">
<g id="line2d_68">
<path d="M 399.213355 185.433071
L 399.213355 27.755906
" clip-path="url(#p52d056ecf1)" style="fill: none; stroke: #b0b0b0; stroke-opacity: 0.27; stroke-linecap: square"/>
</g>
<g id="line2d_69">
<g>
<use href="#m1504cfccaf" x="399.213355" y="185.433071" style="stroke: #000000; stroke-width: 0.8"/>
</g>
</g>
<g id="text_15">
<!-- $\mathdefault{10^{8}}$ -->
<g transform="translate(390.413355 200.031508) translate(0 -3.2828) scale(1 1.0300) translate(0 3.2828)">
<text>
<tspan x="0" y="0.3622" style="font-size: 10px; font-family: 'DejaVu Sans', sans-serif">1</tspan>
<tspan x="6.362305" y="0.3622" style="font-size: 10px; font-family: 'DejaVu Sans', sans-serif">0</tspan>
<tspan x="12.820312" y="-3.3159" style="font-size: 7px; font-family: 'DejaVu Sans', sans-serif">8</tspan>
</text>
</g>
</g>
</g>
<g id="xtick_24">
<g id="line2d_70">
<path d="M 233.858268 185.433071
L 233.858268 27.755906
" clip-path="url(#p52d056ecf1)" style="fill: none; stroke: #b0b0b0; stroke-opacity: 0.1; stroke-linecap: square"/>
</g>
<g id="line2d_71">
<g>
<use href="#m05db3bdf9b" x="233.858268" y="185.433071" style="stroke: #000000; stroke-width: 0.6"/>
</g>
</g>
</g>
<g id="xtick_25">
<g id="line2d_72">
<path d="M 261.888509 185.433071
L 261.888509 27.755906
" clip-path="url(#p52d056ecf1)" style="fill: none; stroke: #b0b0b0; stroke-opacity: 0.1; stroke-linecap: square"/>
</g>
<g id="line2d_73">
<g>
<use href="#m05db3bdf9b" x="261.888509" y="185.433071" style="stroke: #000000; stroke-width: 0.6"/>
</g>
</g>
</g>
<g id="xtick_26">
<g id="line2d_74">
<path d="M 276.121665 185.433071
L 276.121665 27.755906
" clip-path="url(#p52d056ecf1)" style="fill: none; stroke: #b0b0b0; stroke-opacity: 0.1; stroke-linecap: square"/>
</g>
<g id="line2d_75">
<g>
<use href="#m05db3bdf9b" x="276.121665" y="185.433071" style="stroke: #000000; stroke-width: 0.6"/>
</g>
</g>
</g>
<g id="xtick_27">
<g id="line2d_76">
<path d="M 286.220249 185.433071
L 286.220249 27.755906
" clip-path="url(#p52d056ecf1)" style="fill: none; stroke: #b0b0b0; stroke-opacity: 0.1; stroke-linecap: square"/>
</g>
<g id="line2d_77">
<g>
<use href="#m05db3bdf9b" x="286.220249" y="185.433071" style="stroke: #000000; stroke-width: 0.6"/>
</g>
</g>
</g>
<g id="xtick_28">
<g id="line2d_78">
<path d="M 294.05332 185.433071
L 294.05332 27.755906
" clip-path="url(#p52d056ecf1)" style="fill: none; stroke: #b0b0b0; stroke-opacity: 0.1; stroke-linecap: square"/>
</g>
<g id="line2d_79">
<g>
<use href="#m05db3bdf9b" x="294.05332" y="185.433071" style="stroke: #000000; stroke-width: 0.6"/>
</g>
</g>
</g>
<g id="xtick_29">
<g id="line2d_80">
<path d="M 300.453405 185.433071
L 300.453405 27.755906
" clip-path="url(#p52d056ecf1)" style="fill: none; stroke: #b0b0b0; stroke-opacity: 0.1; stroke-linecap: square"/>
</g>
<g id="line2d_81">
<g>
<use href="#m05db3bdf9b" x="300.453405" y="185.433071" style="stroke: #000000; stroke-width: 0.6"/>
</g>
</g>
</g>
<g id="xtick_30">
<g id="line2d_82">
<path d="M 305.8646 185.433071
L 305.8646 27.755906
" clip-path="url(#p52d056ecf1)" style="fill: none; stroke: #b0b0b0; stroke-opacity: 0.1; stroke-linecap: square"/>
</g>
<g id="line2d_83">
<g>
<use href="#m05db3bdf9b" x="305.8646" y="185.433071" style="stroke: #000000; stroke-width: 0.6"/>
</g>
</g>
</g>
<g id="xtick_31">
<g id="line2d_84">
<path d="M 310.55199 185.433071
L 310.55199 27.755906
" clip-path="url(#p52d056ecf1)" style="fill: none; stroke: #b0b0b0; stroke-opacity: 0.1; stroke-linecap: square"/>
</g>
<g id="line2d_85">
<g>
<use href="#m05db3bdf9b" x="310.55199" y="185.433071" style="stroke: #000000; stroke-width: 0.6"/>
</g>
</g>
</g>
<g id="xtick_32">
<g id="line2d_86">
<path d="M 314.686561 185.433071
L 314.686561 27.755906
" clip-path="url(#p52d056ecf1)" style="fill: none; stroke: #b0b0b0; stroke-opacity: 0.1; stroke-linecap: square"/>
</g>
<g id="line2d_87">
<g>
<use href="#m05db3bdf9b" x="314.686561" y="185.433071" style="stroke: #000000; stroke-width: 0.6"/>
</g>
</g>
</g>
<g id="xtick_33">
<g id="line2d_88">
<path d="M 342.716802 185.433071
L 342.716802 27.755906
" clip-path="url(#p52d056ecf1)" style="fill: none; stroke: #b0b0b0; stroke-opacity: 0.1; stroke-linecap: square"/>
</g>
<g id="line2d_89">
<g>
<use href="#m05db3bdf9b" x="342.716802" y="185.433071" style="stroke: #000000; stroke-width: 0.6"/>
</g>
</g>
</g>
<g id="xtick_34">
<g id="line2d_90">
<path d="M 356.949958 185.433071
L 356.949958 27.755906
" clip-path="url(#p52d056ecf1)" style="fill: none; stroke: #b0b0b0; stroke-opacity: 0.1; stroke-linecap: square"/>
</g>
<g id="line2d_91">
<g>
<use href="#m05db3bdf9b" x="356.949958" y="185.433071" style="stroke: #000000; stroke-width: 0.6"/>
</g>
</g>
</g>
<g id="xtick_35">
<g id="line2d_92">
<path d="M 367.048543 185.433071
L 367.048543 27.755906
" clip-path="url(#p52d056ecf1)" style="fill: none; stroke: #b0b0b0; stroke-opacity: 0.1; stroke-linecap: square"/>
</g>
<g id="line2d_93">
<g>
<use href="#m05db3bdf9b" x="367.048543" y="185.433071" style="stroke: #000000; stroke-width: 0.6"/>
</g>
</g>
</g>
<g id="xtick_36">
<g id="line2d_94">
<path d="M 374.881614 185.433071
L 374.881614 27.755906
" clip-path="url(#p52d056ecf1)" style="fill: none; stroke: #b0b0b0; stroke-opacity: 0.1; stroke-linecap: square"/>
</g>
<g id="line2d_95">
<g>
<use href="#m05db3bdf9b" x="374.881614" y="185.433071" style="stroke: #000000; stroke-width: 0.6"/>
</g>
</g>
</g>
<g id="xtick_37">
<g id="line2d_96">
<path d="M 381.281699 185.433071
L 381.281699 27.755906
" clip-path="url(#p52d056ecf1)" style="fill: none; stroke: #b0b0b0; stroke-opacity: 0.1; stroke-linecap: square"/>
</g>
<g id="line2d_97">
<g>
<use href="#m05db3bdf9b" x="381.281699" y="185.433071" style="stroke: #000000; stroke-width: 0.6"/>
</g>
</g>
</g>
<g id="xtick_38">
<g id="line2d_98">
<path d="M 386.692894 185.433071
L 386.692894 27.755906
" clip-path="url(#p52d056ecf1)" style="fill: none; stroke: #b0b0b0; stroke-opacity: 0.1; stroke-linecap: square"/>
</g>
<g id="line2d_99">
<g>
<use href="#m05db3bdf9b" x="386.692894" y="185.433071" style="stroke: #000000; stroke-width: 0.6"/>
</g>
</g>
</g>
<g id="xtick_39">
<g id="line2d_100">
<path d="M 391.380284 185.433071
L 391.380284 27.755906
" clip-path="url(#p52d056ecf1)" style="fill: none; stroke: #b0b0b0; stroke-opacity: 0.1; stroke-linecap: square"/>
</g>
<g id="line2d_101">
<g>
<use href="#m05db3bdf9b" x="391.380284" y="185.433071" style="stroke: #000000; stroke-width: 0.6"/>
</g>
</g>
</g>
<g id="xtick_40">
<g id="line2d_102">
<path d="M 395.514855 185.433071
L 395.514855 27.755906
" clip-path="url(#p52d056ecf1)" style="fill: none; stroke: #b0b0b0; stroke-opacity: 0.1; stroke-linecap: square"/>
</g>
<g id="line2d_103">
<g>
<use href="#m05db3bdf9b" x="395.514855" y="185.433071" style="stroke: #000000; stroke-width: 0.6"/>
</g>
</g>
</g>
</g>
<g id="matplotlib.axis_4">
<g id="ytick_7">
<g id="line2d_104">
<path d="M 233.858268 179.593176
L 402.559055 179.593176
" clip-path="url(#p52d056ecf1)" style="fill: none; stroke: #b0b0b0; stroke-opacity: 0.27; stroke-linecap: square"/>
</g>
<g id="line2d_105">
<g>
<use href="#m5d545ce8f8" x="233.858268" y="179.593176" style="stroke: #000000; stroke-width: 0.8"/>
</g>
</g>
</g>
<g id="ytick_8">
<g id="line2d_106">
<path d="M 233.858268 150.393701
L 402.559055 150.393701
" clip-path="url(#p52d056ecf1)" style="fill: none; stroke: #b0b0b0; stroke-opacity: 0.27; stroke-linecap: square"/>
</g>
<g id="line2d_107">
<g>
<use href="#m5d545ce8f8" x="233.858268" y="150.393701" style="stroke: #000000; stroke-width: 0.8"/>
</g>
</g>
</g>
<g id="ytick_9">
<g id="line2d_108">
<path d="M 233.858268 121.194226
L 402.559055 121.194226
" clip-path="url(#p52d056ecf1)" style="fill: none; stroke: #b0b0b0; stroke-opacity: 0.27; stroke-linecap: square"/>
</g>
<g id="line2d_109">
<g>
<use href="#m5d545ce8f8" x="233.858268" y="121.194226" style="stroke: #000000; stroke-width: 0.8"/>
</g>
</g>
</g>
<g id="ytick_10">
<g id="line2d_110">
<path d="M 233.858268 91.994751
L 402.559055 91.994751
" clip-path="url(#p52d056ecf1)" style="fill: none; stroke: #b0b0b0; stroke-opacity: 0.27; stroke-linecap: square"/>
</g>
<g id="line2d_111">
<g>
<use href="#m5d545ce8f8" x="233.858268" y="91.994751" style="stroke: #000000; stroke-width: 0.8"/>
</g>
</g>
</g>
<g id="ytick_11">
<g id="line2d_112">
<path d="M 233.858268 62.795276
L 402.559055 62.795276
" clip-path="url(#p52d056ecf1)" style="fill: none; stroke: #b0b0b0; stroke-opacity: 0.27; stroke-linecap: square"/>
</g>
<g id="line2d_113">
<g>
<use href="#m5d545ce8f8" x="233.858268" y="62.795276" style="stroke: #000000; stroke-width: 0.8"/>
</g>
</g>
</g>
<g id="ytick_12">
<g id="line2d_114">
<path d="M 233.858268 33.595801
L 402.559055 33.595801
" clip-path="url(#p52d056ecf1)" style="fill: none; stroke: #b0b0b0; stroke-opacity: 0.27; stroke-linecap: square"/>
</g>
<g id="line2d_115">
<g>
<use href="#m5d545ce8f8" x="233.858268" y="33.595801" style="stroke: #000000; stroke-width: 0.8"/>
</g>
</g>
</g>
</g>
<g id="LineCollection_7">
<path d="M 237.556768 144.54146
L 237.556768 139.894235
" clip-path="url(#p52d056ecf1)" style="fill: none; stroke: #377eb8"/>
<path d="M 261.888509 128.982958
L 261.888509 124.501294
" clip-path="url(#p52d056ecf1)" style="fill: none; stroke: #377eb8"/>
<path d="M 286.220249 113.096447
L 286.220249 108.852372
" clip-path="url(#p52d056ecf1)" style="fill: none; stroke: #377eb8"/>
<path d="M 300.453405 99.826718
L 300.453405 95.842573
" clip-path="url(#p52d056ecf1)" style="fill: none; stroke: #377eb8"/>
<path d="M 310.55199 88.298707
L 310.55199 84.594994
" clip-path="url(#p52d056ecf1)" style="fill: none; stroke: #377eb8"/>
<path d="M 318.385061 82.078503
L 318.385061 78.551418
" clip-path="url(#p52d056ecf1)" style="fill: none; stroke: #377eb8"/>
<path d="M 342.716802 57.962582
L 342.716802 55.364189
" clip-path="url(#p52d056ecf1)" style="fill: none; stroke: #377eb8"/>
<path d="M 367.048543 41.467764
L 367.048543 39.973181
" clip-path="url(#p52d056ecf1)" style="fill: none; stroke: #377eb8"/>
<path d="M 381.281699 35.795253
L 381.281699 35.017083
" clip-path="url(#p52d056ecf1)" style="fill: none; stroke: #377eb8"/>
<path d="M 391.380284 34.414907
L 391.380284 33.944673
" clip-path="url(#p52d056ecf1)" style="fill: none; stroke: #377eb8"/>
<path d="M 399.213355 33.885877
L 399.213355 33.597719
" clip-path="url(#p52d056ecf1)" style="fill: none; stroke: #377eb8"/>
</g>
<g id="LineCollection_8">
<path d="M 237.556768 151.69402
L 237.556768 146.991019
" clip-path="url(#p52d056ecf1)" style="fill: none; stroke: #000000"/>
<path d="M 261.888509 141.021502
L 261.888509 136.40632
" clip-path="url(#p52d056ecf1)" style="fill: none; stroke: #000000"/>
<path d="M 286.220249 125.455796
L 286.220249 121.020582
" clip-path="url(#p52d056ecf1)" style="fill: none; stroke: #000000"/>
<path d="M 300.453405 114.569022
L 300.453405 110.299744
" clip-path="url(#p52d056ecf1)" style="fill: none; stroke: #000000"/>
<path d="M 310.55199 103.958429
L 310.55199 99.886715
" clip-path="url(#p52d056ecf1)" style="fill: none; stroke: #000000"/>
<path d="M 318.385061 98.143587
L 318.385061 94.196964
" clip-path="url(#p52d056ecf1)" style="fill: none; stroke: #000000"/>
<path d="M 342.716802 73.678657
L 342.716802 70.424362
" clip-path="url(#p52d056ecf1)" style="fill: none; stroke: #000000"/>
<path d="M 367.048543 51.658342
L 367.048543 49.404651
" clip-path="url(#p52d056ecf1)" style="fill: none; stroke: #000000"/>
<path d="M 381.281699 41.958053
L 381.281699 40.417275
" clip-path="url(#p52d056ecf1)" style="fill: none; stroke: #000000"/>
<path d="M 391.380284 37.756694
L 391.380284 36.676376
" clip-path="url(#p52d056ecf1)" style="fill: none; stroke: #000000"/>
<path d="M 399.213355 36.05159
L 399.213355 35.227937
" clip-path="url(#p52d056ecf1)" style="fill: none; stroke: #000000"/>
</g>
<g id="LineCollection_9">
<path d="M 237.556768 159.431288
L 237.556768 155.371861
" clip-path="url(#p52d056ecf1)" style="fill: none; stroke: #4daf4a"/>
<path d="M 261.888509 159.577473
L 261.888509 155.517671
" clip-path="url(#p52d056ecf1)" style="fill: none; stroke: #4daf4a"/>
<path d="M 286.220249 158.700342
L 286.220249 154.642833
" clip-path="url(#p52d056ecf1)" style="fill: none; stroke: #4daf4a"/>
<path d="M 300.453405 160.454559
L 300.453405 156.392554
" clip-path="url(#p52d056ecf1)" style="fill: none; stroke: #4daf4a"/>
<path d="M 310.55199 159.86984
L 310.55199 155.809293
" clip-path="url(#p52d056ecf1)" style="fill: none; stroke: #4daf4a"/>
<path d="M 318.385061 158.846534
L 318.385061 154.788637
" clip-path="url(#p52d056ecf1)" style="fill: none; stroke: #4daf4a"/>
<path d="M 342.716802 160.746911
L 342.716802 156.684192
" clip-path="url(#p52d056ecf1)" style="fill: none; stroke: #4daf4a"/>
<path d="M 367.048543 160.308381
L 367.048543 156.246737
" clip-path="url(#p52d056ecf1)" style="fill: none; stroke: #4daf4a"/>
<path d="M 381.281699 157.443041
L 381.281699 153.38898
" clip-path="url(#p52d056ecf1)" style="fill: none; stroke: #4daf4a"/>
<path d="M 391.380284 159.577473
L 391.380284 155.517671
" clip-path="url(#p52d056ecf1)" style="fill: none; stroke: #4daf4a"/>
<path d="M 399.213355 157.823165
L 399.213355 153.768042
" clip-path="url(#p52d056ecf1)" style="fill: none; stroke: #4daf4a"/>
</g>
<g id="line2d_116">
<path d="M 237.556768 142.217848
L 261.888509 126.742126
L 286.220249 110.974409
L 300.453405 97.834646
L 310.55199 86.44685
L 318.385061 80.314961
L 342.716802 56.663386
L 367.048543 40.720472
L 381.281699 35.406168
L 391.380284 34.17979
L 399.213355 33.741798
" clip-path="url(#p52d056ecf1)" style="fill: none; stroke: #377eb8; stroke-linecap: square"/>
<g clip-path="url(#p52d056ecf1)">
<use href="#mbeab2f4ac7" x="237.556768" y="142.217848" style="fill: #377eb8; stroke: #377eb8"/>
<use href="#mbeab2f4ac7" x="261.888509" y="126.742126" style="fill: #377eb8; stroke: #377eb8"/>
<use href="#mbeab2f4ac7" x="286.220249" y="110.974409" style="fill: #377eb8; stroke: #377eb8"/>
<use href="#mbeab2f4ac7" x="300.453405" y="97.834646" style="fill: #377eb8; stroke: #377eb8"/>
<use href="#mbeab2f4ac7" x="310.55199" y="86.44685" style="fill: #377eb8; stroke: #377eb8"/>
<use href="#mbeab2f4ac7" x="318.385061" y="80.314961" style="fill: #377eb8; stroke: #377eb8"/>
<use href="#mbeab2f4ac7" x="342.716802" y="56.663386" style="fill: #377eb8; stroke: #377eb8"/>
<use href="#mbeab2f4ac7" x="367.048543" y="40.720472" style="fill: #377eb8; stroke: #377eb8"/>
<use href="#mbeab2f4ac7" x="381.281699" y="35.406168" style="fill: #377eb8; stroke: #377eb8"/>
<use href="#mbeab2f4ac7" x="391.380284" y="34.17979" style="fill: #377eb8; stroke: #377eb8"/>
<use href="#mbeab2f4ac7" x="399.213355" y="33.741798" style="fill: #377eb8; stroke: #377eb8"/>
</g>
</g>
<g id="line2d_117">
<path d="M 237.556768 149.34252
L 261.888509 138.713911
L 286.220249 123.238189
L 300.453405 112.434383
L 310.55199 101.922572
L 318.385061 96.170276
L 342.716802 72.051509
L 367.048543 50.531496
L 381.281699 41.187664
L 391.380284 37.216535
L 399.213355 35.639764
" clip-path="url(#p52d056ecf1)" style="fill: none; stroke: #000000; stroke-linecap: square"/>
<g clip-path="url(#p52d056ecf1)">
<use href="#m93d858a820" x="237.556768" y="149.34252" style="stroke: #000000; stroke-linejoin: miter"/>
<use href="#m93d858a820" x="261.888509" y="138.713911" style="stroke: #000000; stroke-linejoin: miter"/>
<use href="#m93d858a820" x="286.220249" y="123.238189" style="stroke: #000000; stroke-linejoin: miter"/>
<use href="#m93d858a820" x="300.453405" y="112.434383" style="stroke: #000000; stroke-linejoin: miter"/>
<use href="#m93d858a820" x="310.55199" y="101.922572" style="stroke: #000000; stroke-linejoin: miter"/>
<use href="#m93d858a820" x="318.385061" y="96.170276" style="stroke: #000000; stroke-linejoin: miter"/>
<use href="#m93d858a820" x="342.716802" y="72.051509" style="stroke: #000000; stroke-linejoin: miter"/>
<use href="#m93d858a820" x="367.048543" y="50.531496" style="stroke: #000000; stroke-linejoin: miter"/>
<use href="#m93d858a820" x="381.281699" y="41.187664" style="stroke: #000000; stroke-linejoin: miter"/>
<use href="#m93d858a820" x="391.380284" y="37.216535" style="stroke: #000000; stroke-linejoin: miter"/>
<use href="#m93d858a820" x="399.213355" y="35.639764" style="stroke: #000000; stroke-linejoin: miter"/>
</g>
</g>
<g id="line2d_118">
<path d="M 237.556768 157.401575
L 261.888509 157.547572
L 286.220249 156.671588
L 300.453405 158.423556
L 310.55199 157.839567
L 318.385061 156.817585
L 342.716802 158.715551
L 367.048543 158.277559
L 381.281699 155.41601
L 391.380284 157.547572
L 399.213355 155.795604
" clip-path="url(#p52d056ecf1)" style="fill: none; stroke: #4daf4a; stroke-linecap: square"/>
<g clip-path="url(#p52d056ecf1)">
<use href="#me54bdaed13" x="237.556768" y="157.401575" style="fill: #4daf4a; stroke: #4daf4a; stroke-linejoin: miter"/>
<use href="#me54bdaed13" x="261.888509" y="157.547572" style="fill: #4daf4a; stroke: #4daf4a; stroke-linejoin: miter"/>
<use href="#me54bdaed13" x="286.220249" y="156.671588" style="fill: #4daf4a; stroke: #4daf4a; stroke-linejoin: miter"/>
<use href="#me54bdaed13" x="300.453405" y="158.423556" style="fill: #4daf4a; stroke: #4daf4a; stroke-linejoin: miter"/>
<use href="#me54bdaed13" x="310.55199" y="157.839567" style="fill: #4daf4a; stroke: #4daf4a; stroke-linejoin: miter"/>
<use href="#me54bdaed13" x="318.385061" y="156.817585" style="fill: #4daf4a; stroke: #4daf4a; stroke-linejoin: miter"/>
<use href="#me54bdaed13" x="342.716802" y="158.715551" style="fill: #4daf4a; stroke: #4daf4a; stroke-linejoin: miter"/>
<use href="#me54bdaed13" x="367.048543" y="158.277559" style="fill: #4daf4a; stroke: #4daf4a; stroke-linejoin: miter"/>
<use href="#me54bdaed13" x="381.281699" y="155.41601" style="fill: #4daf4a; stroke: #4daf4a; stroke-linejoin: miter"/>
<use href="#me54bdaed13" x="391.380284" y="157.547572" style="fill: #4daf4a; stroke: #4daf4a; stroke-linejoin: miter"/>
<use href="#me54bdaed13" x="399.213355" y="155.795604" style="fill: #4daf4a; stroke: #4daf4a; stroke-linejoin: miter"/>
</g>
</g>
<g id="patch_9">
<path d="M 233.858268 185.433071
L 233.858268 27.755906
" style="fill: none; stroke: #000000; stroke-width: 0.8; stroke-linejoin: miter; stroke-linecap: square"/>
</g>
<g id="patch_10">
<path d="M 402.559055 185.433071
L 402.559055 27.755906
" style="fill: none; stroke: #000000; stroke-width: 0.8; stroke-linejoin: miter; stroke-linecap: square"/>
</g>
<g id="patch_11">
<path d="M 233.858268 185.433071
L 402.559055 185.433071
" style="fill: none; stroke: #000000; stroke-width: 0.8; stroke-linejoin: miter; stroke-linecap: square"/>
</g>
<g id="patch_12">
<path d="M 233.858268 27.755906
L 402.559055 27.755906
" style="fill: none; stroke: #000000; stroke-width: 0.8; stroke-linejoin: miter; stroke-linecap: square"/>
</g>
<g id="title_b" transform="translate(-0.394 0.315)">
<!-- Oblique [$\theta = 45^\circ$] -->
<g transform="translate(247.648661 21.755906)">
<text>
<tspan x="0" y="-0.71875" style="font-size: 16px; font-family: 'DejaVu Sans', sans-serif">O</tspan>
<tspan x="12.59375" y="-0.71875" style="font-size: 16px; font-family: 'DejaVu Sans', sans-serif">b</tspan>
<tspan x="22.75" y="-0.71875" style="font-size: 16px; font-family: 'DejaVu Sans', sans-serif">l</tspan>
<tspan x="27.195312" y="-0.71875" style="font-size: 16px; font-family: 'DejaVu Sans', sans-serif">i</tspan>
<tspan x="31.640625" y="-0.71875" style="font-size: 16px; font-family: 'DejaVu Sans', sans-serif">q</tspan>
<tspan x="41.796875" y="-0.71875" style="font-size: 16px; font-family: 'DejaVu Sans', sans-serif">u</tspan>
<tspan x="51.9375" y="-0.71875" style="font-size: 16px; font-family: 'DejaVu Sans', sans-serif">e</tspan>
<tspan x="61.78125" y="-0.71875" style="font-size: 16px; font-family: 'DejaVu Sans', sans-serif"> </tspan>
<tspan x="66.867188" y="-0.71875" style="font-size: 16px; font-family: 'DejaVu Sans', sans-serif">[</tspan>
<tspan x="86.015625" y="-0.71875" style="font-size: 16px; font-family: 'DejaVu Sans', sans-serif">=</tspan>
<tspan x="102.539062" y="-0.71875" style="font-size: 16px; font-family: 'DejaVu Sans', sans-serif">4</tspan>
<tspan x="112.71875" y="-0.71875" style="font-size: 16px; font-family: 'DejaVu Sans', sans-serif">5</tspan>
<tspan x="134.864062" y="-0.71875" style="font-size: 16px; font-family: 'DejaVu Sans', sans-serif">]</tspan>
<tspan x="73.109375" y="-0.71875" style="font-style: oblique; font-size: 16px; font-family: 'DejaVu Sans', sans-serif">θ</tspan>
<tspan x="125.233594" y="-6.84375" style="font-size: 11.2px; font-family: 'DejaVu Sans', sans-serif">∘</tspan>
</text>
</g>
</g>
</g>
<g id="axes_3">
<g id="patch_13">
<path d="M 425.590551 185.433071
L 594.291339 185.433071
L 594.291339 27.755906
L 425.590551 27.755906
z
" style="fill: #ffffff"/>
</g>
<g id="line2d_119">
<path d="M 425.590551 62.795276
L 594.291339 62.795276
" clip-path="url(#pb7c58cf584)" style="fill: none; stroke-dasharray: 3.7,1.6; stroke-dashoffset: 0; stroke: #5f5f5f"/>
</g>
<g id="FillBetweenPolyCollection_7">
<defs>
<path id="m5b6cb9b76a" d="M 429.289051 -128.769077
L 429.289051 -122.812288
L 453.620792 -147.457154
L 477.952533 -171.920269
L 492.185689 -182.367947
L 502.284274 -189.640637
L 510.117345 -193.061288
L 534.449086 -198.532714
L 558.780827 -198.944127
L 573.013983 -198.944127
L 583.112567 -198.944127
L 590.945638 -198.944127
L 590.945638 -199.218602
L 590.945638 -199.218602
L 583.112567 -199.218602
L 573.013983 -199.218602
L 558.780827 -199.218602
L 534.449086 -199.046026
L 510.117345 -194.881626
L 502.284274 -191.936791
L 492.185689 -185.427328
L 477.952533 -175.785767
L 453.620792 -152.595339
L 429.289051 -128.769077
z
"/>
</defs>
<g clip-path="url(#pb7c58cf584)">
<use href="#m5b6cb9b76a" x="0" y="232.677165" style="fill: #377eb8; fill-opacity: 0.15"/>
</g>
</g>
<g id="FillBetweenPolyCollection_8">
<defs>
<path id="m1e44956adb" d="M 429.289051 -132.799795
L 429.289051 -126.957423
L 453.620792 -150.290421
L 477.952533 -174.248591
L 492.185689 -185.680478
L 502.284274 -191.014358
L 510.117345 -194.656805
L 534.449086 -198.41899
L 558.780827 -198.72954
L 573.013983 -198.72954
L 583.112567 -198.72954
L 590.945638 -198.72954
L 590.945638 -199.141195
L 590.945638 -199.141195
L 583.112567 -199.141195
L 573.013983 -199.141195
L 558.780827 -199.141195
L 534.449086 -198.984553
L 510.117345 -196.206055
L 502.284274 -193.132623
L 492.185689 -188.421884
L 477.952533 -177.954165
L 453.620792 -155.309972
L 429.289051 -132.799795
z
"/>
</defs>
<g clip-path="url(#pb7c58cf584)">
<use href="#m1e44956adb" x="0" y="232.677165" style="fill-opacity: 0.15"/>
</g>
</g>
<g id="FillBetweenPolyCollection_9">
<defs>
<path id="m5161587ef5" d="M 429.289051 -83.711525
L 429.289051 -77.935457
L 453.620792 -89.794891
L 477.952533 -105.715779
L 492.185689 -116.843461
L 502.284274 -125.45584
L 510.117345 -132.075868
L 534.449086 -156.320902
L 558.780827 -179.860081
L 573.013983 -189.159479
L 583.112567 -193.720549
L 590.945638 -195.57729
L 590.945638 -198.497513
L 590.945638 -198.497513
L 583.112567 -196.850317
L 573.013983 -192.651545
L 558.780827 -183.847268
L 534.449086 -161.07608
L 510.117345 -137.317177
L 502.284274 -130.797441
L 492.185689 -122.298928
L 477.952533 -111.293407
L 453.620792 -95.503666
L 429.289051 -83.711525
z
"/>
</defs>
<g clip-path="url(#pb7c58cf584)">
<use href="#m5161587ef5" x="0" y="232.677165" style="fill: #4daf4a; fill-opacity: 0.15"/>
</g>
</g>
<g id="matplotlib.axis_5">
<g id="xtick_41">
<g id="line2d_120">
<path d="M 429.289051 185.433071
L 429.289051 27.755906
" clip-path="url(#pb7c58cf584)" style="fill: none; stroke: #b0b0b0; stroke-opacity: 0.27; stroke-linecap: square"/>
</g>
<g id="line2d_121">
<g>
<use href="#m1504cfccaf" x="429.289051" y="185.433071" style="stroke: #000000; stroke-width: 0.8"/>
</g>
</g>
<g id="text_16">
<!-- $\mathdefault{10^{6}}$ -->
<g transform="translate(420.489051 200.031508) translate(0 -3.2828) scale(1 1.0300) translate(0 3.2828)">
<text>
<tspan x="0" y="0.3622" style="font-size: 10px; font-family: 'DejaVu Sans', sans-serif">1</tspan>
<tspan x="6.362305" y="0.3622" style="font-size: 10px; font-family: 'DejaVu Sans', sans-serif">0</tspan>
<tspan x="12.820312" y="-3.3159" style="font-size: 7px; font-family: 'DejaVu Sans', sans-serif">6</tspan>
</text>
</g>
</g>
</g>
<g id="xtick_42">
<g id="line2d_122">
<path d="M 510.117345 185.433071
L 510.117345 27.755906
" clip-path="url(#pb7c58cf584)" style="fill: none; stroke: #b0b0b0; stroke-opacity: 0.27; stroke-linecap: square"/>
</g>
<g id="line2d_123">
<g>
<use href="#m1504cfccaf" x="510.117345" y="185.433071" style="stroke: #000000; stroke-width: 0.8"/>
</g>
</g>
<g id="text_17">
<!-- $\mathdefault{10^{7}}$ -->
<g transform="translate(501.317345 200.031508) translate(0 -3.2828) scale(1 1.0300) translate(0 3.2828)">
<text>
<tspan x="0" y="0.3622" style="font-size: 10px; font-family: 'DejaVu Sans', sans-serif">1</tspan>
<tspan x="6.362305" y="0.3622" style="font-size: 10px; font-family: 'DejaVu Sans', sans-serif">0</tspan>
<tspan x="12.820312" y="-3.3159" style="font-size: 7px; font-family: 'DejaVu Sans', sans-serif">7</tspan>
</text>
</g>
</g>
</g>
<g id="xtick_43">
<g id="line2d_124">
<path d="M 590.945638 185.433071
L 590.945638 27.755906
" clip-path="url(#pb7c58cf584)" style="fill: none; stroke: #b0b0b0; stroke-opacity: 0.27; stroke-linecap: square"/>
</g>
<g id="line2d_125">
<g>
<use href="#m1504cfccaf" x="590.945638" y="185.433071" style="stroke: #000000; stroke-width: 0.8"/>
</g>
</g>
<g id="text_18">
<!-- $\mathdefault{10^{8}}$ -->
<g transform="translate(582.145638 200.031508) translate(0 -3.2828) scale(1 1.0300) translate(0 3.2828)">
<text>
<tspan x="0" y="0.3622" style="font-size: 10px; font-family: 'DejaVu Sans', sans-serif">1</tspan>
<tspan x="6.362305" y="0.3622" style="font-size: 10px; font-family: 'DejaVu Sans', sans-serif">0</tspan>
<tspan x="12.820312" y="-3.3159" style="font-size: 7px; font-family: 'DejaVu Sans', sans-serif">8</tspan>
</text>
</g>
</g>
</g>
<g id="xtick_44">
<g id="line2d_126">
<path d="M 425.590551 185.433071
L 425.590551 27.755906
" clip-path="url(#pb7c58cf584)" style="fill: none; stroke: #b0b0b0; stroke-opacity: 0.1; stroke-linecap: square"/>
</g>
<g id="line2d_127">
<g>
<use href="#m05db3bdf9b" x="425.590551" y="185.433071" style="stroke: #000000; stroke-width: 0.6"/>
</g>
</g>
</g>
<g id="xtick_45">
<g id="line2d_128">
<path d="M 453.620792 185.433071
L 453.620792 27.755906
" clip-path="url(#pb7c58cf584)" style="fill: none; stroke: #b0b0b0; stroke-opacity: 0.1; stroke-linecap: square"/>
</g>
<g id="line2d_129">
<g>
<use href="#m05db3bdf9b" x="453.620792" y="185.433071" style="stroke: #000000; stroke-width: 0.6"/>
</g>
</g>
</g>
<g id="xtick_46">
<g id="line2d_130">
<path d="M 467.853948 185.433071
L 467.853948 27.755906
" clip-path="url(#pb7c58cf584)" style="fill: none; stroke: #b0b0b0; stroke-opacity: 0.1; stroke-linecap: square"/>
</g>
<g id="line2d_131">
<g>
<use href="#m05db3bdf9b" x="467.853948" y="185.433071" style="stroke: #000000; stroke-width: 0.6"/>
</g>
</g>
</g>
<g id="xtick_47">
<g id="line2d_132">
<path d="M 477.952533 185.433071
L 477.952533 27.755906
" clip-path="url(#pb7c58cf584)" style="fill: none; stroke: #b0b0b0; stroke-opacity: 0.1; stroke-linecap: square"/>
</g>
<g id="line2d_133">
<g>
<use href="#m05db3bdf9b" x="477.952533" y="185.433071" style="stroke: #000000; stroke-width: 0.6"/>
</g>
</g>
</g>
<g id="xtick_48">
<g id="line2d_134">
<path d="M 485.785604 185.433071
L 485.785604 27.755906
" clip-path="url(#pb7c58cf584)" style="fill: none; stroke: #b0b0b0; stroke-opacity: 0.1; stroke-linecap: square"/>
</g>
<g id="line2d_135">
<g>
<use href="#m05db3bdf9b" x="485.785604" y="185.433071" style="stroke: #000000; stroke-width: 0.6"/>
</g>
</g>
</g>
<g id="xtick_49">
<g id="line2d_136">
<path d="M 492.185689 185.433071
L 492.185689 27.755906
" clip-path="url(#pb7c58cf584)" style="fill: none; stroke: #b0b0b0; stroke-opacity: 0.1; stroke-linecap: square"/>
</g>
<g id="line2d_137">
<g>
<use href="#m05db3bdf9b" x="492.185689" y="185.433071" style="stroke: #000000; stroke-width: 0.6"/>
</g>
</g>
</g>
<g id="xtick_50">
<g id="line2d_138">
<path d="M 497.596884 185.433071
L 497.596884 27.755906
" clip-path="url(#pb7c58cf584)" style="fill: none; stroke: #b0b0b0; stroke-opacity: 0.1; stroke-linecap: square"/>
</g>
<g id="line2d_139">
<g>
<use href="#m05db3bdf9b" x="497.596884" y="185.433071" style="stroke: #000000; stroke-width: 0.6"/>
</g>
</g>
</g>
<g id="xtick_51">
<g id="line2d_140">
<path d="M 502.284274 185.433071
L 502.284274 27.755906
" clip-path="url(#pb7c58cf584)" style="fill: none; stroke: #b0b0b0; stroke-opacity: 0.1; stroke-linecap: square"/>
</g>
<g id="line2d_141">
<g>
<use href="#m05db3bdf9b" x="502.284274" y="185.433071" style="stroke: #000000; stroke-width: 0.6"/>
</g>
</g>
</g>
<g id="xtick_52">
<g id="line2d_142">
<path d="M 506.418845 185.433071
L 506.418845 27.755906
" clip-path="url(#pb7c58cf584)" style="fill: none; stroke: #b0b0b0; stroke-opacity: 0.1; stroke-linecap: square"/>
</g>
<g id="line2d_143">
<g>
<use href="#m05db3bdf9b" x="506.418845" y="185.433071" style="stroke: #000000; stroke-width: 0.6"/>
</g>
</g>
</g>
<g id="xtick_53">
<g id="line2d_144">
<path d="M 534.449086 185.433071
L 534.449086 27.755906
" clip-path="url(#pb7c58cf584)" style="fill: none; stroke: #b0b0b0; stroke-opacity: 0.1; stroke-linecap: square"/>
</g>
<g id="line2d_145">
<g>
<use href="#m05db3bdf9b" x="534.449086" y="185.433071" style="stroke: #000000; stroke-width: 0.6"/>
</g>
</g>
</g>
<g id="xtick_54">
<g id="line2d_146">
<path d="M 548.682242 185.433071
L 548.682242 27.755906
" clip-path="url(#pb7c58cf584)" style="fill: none; stroke: #b0b0b0; stroke-opacity: 0.1; stroke-linecap: square"/>
</g>
<g id="line2d_147">
<g>
<use href="#m05db3bdf9b" x="548.682242" y="185.433071" style="stroke: #000000; stroke-width: 0.6"/>
</g>
</g>
</g>
<g id="xtick_55">
<g id="line2d_148">
<path d="M 558.780827 185.433071
L 558.780827 27.755906
" clip-path="url(#pb7c58cf584)" style="fill: none; stroke: #b0b0b0; stroke-opacity: 0.1; stroke-linecap: square"/>
</g>
<g id="line2d_149">
<g>
<use href="#m05db3bdf9b" x="558.780827" y="185.433071" style="stroke: #000000; stroke-width: 0.6"/>
</g>
</g>
</g>
<g id="xtick_56">
<g id="line2d_150">
<path d="M 566.613898 185.433071
L 566.613898 27.755906
" clip-path="url(#pb7c58cf584)" style="fill: none; stroke: #b0b0b0; stroke-opacity: 0.1; stroke-linecap: square"/>
</g>
<g id="line2d_151">
<g>
<use href="#m05db3bdf9b" x="566.613898" y="185.433071" style="stroke: #000000; stroke-width: 0.6"/>
</g>
</g>
</g>
<g id="xtick_57">
<g id="line2d_152">
<path d="M 573.013983 185.433071
L 573.013983 27.755906
" clip-path="url(#pb7c58cf584)" style="fill: none; stroke: #b0b0b0; stroke-opacity: 0.1; stroke-linecap: square"/>
</g>
<g id="line2d_153">
<g>
<use href="#m05db3bdf9b" x="573.013983" y="185.433071" style="stroke: #000000; stroke-width: 0.6"/>
</g>
</g>
</g>
<g id="xtick_58">
<g id="line2d_154">
<path d="M 578.425177 185.433071
L 578.425177 27.755906
" clip-path="url(#pb7c58cf584)" style="fill: none; stroke: #b0b0b0; stroke-opacity: 0.1; stroke-linecap: square"/>
</g>
<g id="line2d_155">
<g>
<use href="#m05db3bdf9b" x="578.425177" y="185.433071" style="stroke: #000000; stroke-width: 0.6"/>
</g>
</g>
</g>
<g id="xtick_59">
<g id="line2d_156">
<path d="M 583.112567 185.433071
L 583.112567 27.755906
" clip-path="url(#pb7c58cf584)" style="fill: none; stroke: #b0b0b0; stroke-opacity: 0.1; stroke-linecap: square"/>
</g>
<g id="line2d_157">
<g>
<use href="#m05db3bdf9b" x="583.112567" y="185.433071" style="stroke: #000000; stroke-width: 0.6"/>
</g>
</g>
</g>
<g id="xtick_60">
<g id="line2d_158">
<path d="M 587.247139 185.433071
L 587.247139 27.755906
" clip-path="url(#pb7c58cf584)" style="fill: none; stroke: #b0b0b0; stroke-opacity: 0.1; stroke-linecap: square"/>
</g>
<g id="line2d_159">
<g>
<use href="#m05db3bdf9b" x="587.247139" y="185.433071" style="stroke: #000000; stroke-width: 0.6"/>
</g>
</g>
</g>
</g>
<g id="matplotlib.axis_6">
<g id="ytick_13">
<g id="line2d_160">
<path d="M 425.590551 179.593176
L 594.291339 179.593176
" clip-path="url(#pb7c58cf584)" style="fill: none; stroke: #b0b0b0; stroke-opacity: 0.27; stroke-linecap: square"/>
</g>
<g id="line2d_161">
<g>
<use href="#m5d545ce8f8" x="425.590551" y="179.593176" style="stroke: #000000; stroke-width: 0.8"/>
</g>
</g>
</g>
<g id="ytick_14">
<g id="line2d_162">
<path d="M 425.590551 150.393701
L 594.291339 150.393701
" clip-path="url(#pb7c58cf584)" style="fill: none; stroke: #b0b0b0; stroke-opacity: 0.27; stroke-linecap: square"/>
</g>
<g id="line2d_163">
<g>
<use href="#m5d545ce8f8" x="425.590551" y="150.393701" style="stroke: #000000; stroke-width: 0.8"/>
</g>
</g>
</g>
<g id="ytick_15">
<g id="line2d_164">
<path d="M 425.590551 121.194226
L 594.291339 121.194226
" clip-path="url(#pb7c58cf584)" style="fill: none; stroke: #b0b0b0; stroke-opacity: 0.27; stroke-linecap: square"/>
</g>
<g id="line2d_165">
<g>
<use href="#m5d545ce8f8" x="425.590551" y="121.194226" style="stroke: #000000; stroke-width: 0.8"/>
</g>
</g>
</g>
<g id="ytick_16">
<g id="line2d_166">
<path d="M 425.590551 91.994751
L 594.291339 91.994751
" clip-path="url(#pb7c58cf584)" style="fill: none; stroke: #b0b0b0; stroke-opacity: 0.27; stroke-linecap: square"/>
</g>
<g id="line2d_167">
<g>
<use href="#m5d545ce8f8" x="425.590551" y="91.994751" style="stroke: #000000; stroke-width: 0.8"/>
</g>
</g>
</g>
<g id="ytick_17">
<g id="line2d_168">
<path d="M 425.590551 62.795276
L 594.291339 62.795276
" clip-path="url(#pb7c58cf584)" style="fill: none; stroke: #b0b0b0; stroke-opacity: 0.27; stroke-linecap: square"/>
</g>
<g id="line2d_169">
<g>
<use href="#m5d545ce8f8" x="425.590551" y="62.795276" style="stroke: #000000; stroke-width: 0.8"/>
</g>
</g>
</g>
<g id="ytick_18">
<g id="line2d_170">
<path d="M 425.590551 33.595801
L 594.291339 33.595801
" clip-path="url(#pb7c58cf584)" style="fill: none; stroke: #b0b0b0; stroke-opacity: 0.27; stroke-linecap: square"/>
</g>
<g id="line2d_171">
<g>
<use href="#m5d545ce8f8" x="425.590551" y="33.595801" style="stroke: #000000; stroke-width: 0.8"/>
</g>
</g>
</g>
</g>
<g id="LineCollection_10">
<path d="M 429.289051 108.971359
L 429.289051 104.801607
" clip-path="url(#pb7c58cf584)" style="fill: none; stroke: #377eb8"/>
<path d="M 453.620792 84.449283
L 453.620792 80.852554
" clip-path="url(#pb7c58cf584)" style="fill: none; stroke: #377eb8"/>
<path d="M 477.952533 60.177071
L 477.952533 57.471223
" clip-path="url(#pb7c58cf584)" style="fill: none; stroke: #377eb8"/>
<path d="M 492.185689 49.850311
L 492.185689 47.708744
" clip-path="url(#pb7c58cf584)" style="fill: none; stroke: #377eb8"/>
<path d="M 502.284274 42.692105
L 502.284274 41.084797
" clip-path="url(#pb7c58cf584)" style="fill: none; stroke: #377eb8"/>
<path d="M 510.117345 39.342827
L 510.117345 38.06859
" clip-path="url(#pb7c58cf584)" style="fill: none; stroke: #377eb8"/>
<path d="M 534.449086 34.067455
L 534.449086 33.708136
" clip-path="url(#pb7c58cf584)" style="fill: none; stroke: #377eb8"/>
<path d="M 558.780827 33.691867
L 558.780827 33.499734
" clip-path="url(#pb7c58cf584)" style="fill: none; stroke: #377eb8"/>
<path d="M 573.013983 33.691867
L 573.013983 33.499734
" clip-path="url(#pb7c58cf584)" style="fill: none; stroke: #377eb8"/>
<path d="M 583.112567 33.691867
L 583.112567 33.499734
" clip-path="url(#pb7c58cf584)" style="fill: none; stroke: #377eb8"/>
<path d="M 590.945638 33.691867
L 590.945638 33.499734
" clip-path="url(#pb7c58cf584)" style="fill: none; stroke: #377eb8"/>
</g>
<g id="LineCollection_11">
<path d="M 429.289051 104.843386
L 429.289051 100.753727
" clip-path="url(#pb7c58cf584)" style="fill: none; stroke: #000000"/>
<path d="M 453.620792 81.633811
L 453.620792 78.120126
" clip-path="url(#pb7c58cf584)" style="fill: none; stroke: #000000"/>
<path d="M 477.952533 57.872738
L 477.952533 55.278837
" clip-path="url(#pb7c58cf584)" style="fill: none; stroke: #000000"/>
<path d="M 492.185689 46.585476
L 492.185689 44.666492
" clip-path="url(#pb7c58cf584)" style="fill: none; stroke: #000000"/>
<path d="M 502.284274 41.345067
L 502.284274 39.862282
" clip-path="url(#pb7c58cf584)" style="fill: none; stroke: #000000"/>
<path d="M 510.117345 37.787972
L 510.117345 36.703497
" clip-path="url(#pb7c58cf584)" style="fill: none; stroke: #000000"/>
<path d="M 534.449086 34.173341
L 534.449086 33.777446
" clip-path="url(#pb7c58cf584)" style="fill: none; stroke: #000000"/>
<path d="M 558.780827 33.885877
L 558.780827 33.597719
" clip-path="url(#pb7c58cf584)" style="fill: none; stroke: #000000"/>
<path d="M 573.013983 33.885877
L 573.013983 33.597719
" clip-path="url(#pb7c58cf584)" style="fill: none; stroke: #000000"/>
<path d="M 583.112567 33.885877
L 583.112567 33.597719
" clip-path="url(#pb7c58cf584)" style="fill: none; stroke: #000000"/>
<path d="M 590.945638 33.885877
L 590.945638 33.597719
" clip-path="url(#pb7c58cf584)" style="fill: none; stroke: #000000"/>
</g>
<g id="LineCollection_12">
<path d="M 429.289051 153.875298
L 429.289051 149.832051
" clip-path="url(#pb7c58cf584)" style="fill: none; stroke: #4daf4a"/>
<path d="M 453.620792 142.025959
L 453.620792 138.029816
" clip-path="url(#pb7c58cf584)" style="fill: none; stroke: #4daf4a"/>
<path d="M 477.952533 126.124742
L 477.952533 122.220402
" clip-path="url(#pb7c58cf584)" style="fill: none; stroke: #4daf4a"/>
<path d="M 492.185689 115.015385
L 492.185689 111.196558
" clip-path="url(#pb7c58cf584)" style="fill: none; stroke: #4daf4a"/>
<path d="M 502.284274 106.420085
L 502.284274 102.680965
" clip-path="url(#pb7c58cf584)" style="fill: none; stroke: #4daf4a"/>
<path d="M 510.117345 99.815101
L 510.117345 96.146185
" clip-path="url(#pb7c58cf584)" style="fill: none; stroke: #4daf4a"/>
<path d="M 534.449086 75.642987
L 534.449086 72.314362
" clip-path="url(#pb7c58cf584)" style="fill: none; stroke: #4daf4a"/>
<path d="M 558.780827 52.219006
L 558.780827 49.427976
" clip-path="url(#pb7c58cf584)" style="fill: none; stroke: #4daf4a"/>
<path d="M 573.013983 42.993877
L 573.013983 40.54943
" clip-path="url(#pb7c58cf584)" style="fill: none; stroke: #4daf4a"/>
<path d="M 583.112567 38.487151
L 583.112567 36.296313
" clip-path="url(#pb7c58cf584)" style="fill: none; stroke: #4daf4a"/>
<path d="M 590.945638 36.661842
L 590.945638 34.617686
" clip-path="url(#pb7c58cf584)" style="fill: none; stroke: #4daf4a"/>
</g>
<g id="line2d_172">
<path d="M 429.289051 106.886483
L 453.620792 82.650919
L 477.952533 58.824147
L 492.185689 48.779528
L 502.284274 41.888451
L 510.117345 38.705709
L 534.449086 33.887795
L 558.780827 33.595801
L 573.013983 33.595801
L 583.112567 33.595801
L 590.945638 33.595801
" clip-path="url(#pb7c58cf584)" style="fill: none; stroke: #377eb8; stroke-linecap: square"/>
<g clip-path="url(#pb7c58cf584)">
<use href="#mbeab2f4ac7" x="429.289051" y="106.886483" style="fill: #377eb8; stroke: #377eb8"/>
<use href="#mbeab2f4ac7" x="453.620792" y="82.650919" style="fill: #377eb8; stroke: #377eb8"/>
<use href="#mbeab2f4ac7" x="477.952533" y="58.824147" style="fill: #377eb8; stroke: #377eb8"/>
<use href="#mbeab2f4ac7" x="492.185689" y="48.779528" style="fill: #377eb8; stroke: #377eb8"/>
<use href="#mbeab2f4ac7" x="502.284274" y="41.888451" style="fill: #377eb8; stroke: #377eb8"/>
<use href="#mbeab2f4ac7" x="510.117345" y="38.705709" style="fill: #377eb8; stroke: #377eb8"/>
<use href="#mbeab2f4ac7" x="534.449086" y="33.887795" style="fill: #377eb8; stroke: #377eb8"/>
<use href="#mbeab2f4ac7" x="558.780827" y="33.595801" style="fill: #377eb8; stroke: #377eb8"/>
<use href="#mbeab2f4ac7" x="573.013983" y="33.595801" style="fill: #377eb8; stroke: #377eb8"/>
<use href="#mbeab2f4ac7" x="583.112567" y="33.595801" style="fill: #377eb8; stroke: #377eb8"/>
<use href="#mbeab2f4ac7" x="590.945638" y="33.595801" style="fill: #377eb8; stroke: #377eb8"/>
</g>
</g>
<g id="line2d_173">
<path d="M 429.289051 102.798556
L 453.620792 79.876969
L 477.952533 56.575787
L 492.185689 45.625984
L 502.284274 40.603675
L 510.117345 37.245735
L 534.449086 33.975394
L 558.780827 33.741798
L 573.013983 33.741798
L 583.112567 33.741798
L 590.945638 33.741798
" clip-path="url(#pb7c58cf584)" style="fill: none; stroke: #000000; stroke-linecap: square"/>
<g clip-path="url(#pb7c58cf584)">
<use href="#m93d858a820" x="429.289051" y="102.798556" style="stroke: #000000; stroke-linejoin: miter"/>
<use href="#m93d858a820" x="453.620792" y="79.876969" style="stroke: #000000; stroke-linejoin: miter"/>
<use href="#m93d858a820" x="477.952533" y="56.575787" style="stroke: #000000; stroke-linejoin: miter"/>
<use href="#m93d858a820" x="492.185689" y="45.625984" style="stroke: #000000; stroke-linejoin: miter"/>
<use href="#m93d858a820" x="502.284274" y="40.603675" style="stroke: #000000; stroke-linejoin: miter"/>
<use href="#m93d858a820" x="510.117345" y="37.245735" style="stroke: #000000; stroke-linejoin: miter"/>
<use href="#m93d858a820" x="534.449086" y="33.975394" style="stroke: #000000; stroke-linejoin: miter"/>
<use href="#m93d858a820" x="558.780827" y="33.741798" style="stroke: #000000; stroke-linejoin: miter"/>
<use href="#m93d858a820" x="573.013983" y="33.741798" style="stroke: #000000; stroke-linejoin: miter"/>
<use href="#m93d858a820" x="583.112567" y="33.741798" style="stroke: #000000; stroke-linejoin: miter"/>
<use href="#m93d858a820" x="590.945638" y="33.741798" style="stroke: #000000; stroke-linejoin: miter"/>
</g>
</g>
<g id="line2d_174">
<path d="M 429.289051 151.853675
L 453.620792 140.027887
L 477.952533 124.172572
L 492.185689 113.105971
L 502.284274 104.550525
L 510.117345 97.980643
L 534.449086 73.978675
L 558.780827 50.823491
L 573.013983 41.771654
L 583.112567 37.391732
L 590.945638 35.639764
" clip-path="url(#pb7c58cf584)" style="fill: none; stroke: #4daf4a; stroke-linecap: square"/>
<g clip-path="url(#pb7c58cf584)">
<use href="#me54bdaed13" x="429.289051" y="151.853675" style="fill: #4daf4a; stroke: #4daf4a; stroke-linejoin: miter"/>
<use href="#me54bdaed13" x="453.620792" y="140.027887" style="fill: #4daf4a; stroke: #4daf4a; stroke-linejoin: miter"/>
<use href="#me54bdaed13" x="477.952533" y="124.172572" style="fill: #4daf4a; stroke: #4daf4a; stroke-linejoin: miter"/>
<use href="#me54bdaed13" x="492.185689" y="113.105971" style="fill: #4daf4a; stroke: #4daf4a; stroke-linejoin: miter"/>
<use href="#me54bdaed13" x="502.284274" y="104.550525" style="fill: #4daf4a; stroke: #4daf4a; stroke-linejoin: miter"/>
<use href="#me54bdaed13" x="510.117345" y="97.980643" style="fill: #4daf4a; stroke: #4daf4a; stroke-linejoin: miter"/>
<use href="#me54bdaed13" x="534.449086" y="73.978675" style="fill: #4daf4a; stroke: #4daf4a; stroke-linejoin: miter"/>
<use href="#me54bdaed13" x="558.780827" y="50.823491" style="fill: #4daf4a; stroke: #4daf4a; stroke-linejoin: miter"/>
<use href="#me54bdaed13" x="573.013983" y="41.771654" style="fill: #4daf4a; stroke: #4daf4a; stroke-linejoin: miter"/>
<use href="#me54bdaed13" x="583.112567" y="37.391732" style="fill: #4daf4a; stroke: #4daf4a; stroke-linejoin: miter"/>
<use href="#me54bdaed13" x="590.945638" y="35.639764" style="fill: #4daf4a; stroke: #4daf4a; stroke-linejoin: miter"/>
</g>
</g>
<g id="patch_14">
<path d="M 425.590551 185.433071
L 425.590551 27.755906
" style="fill: none; stroke: #000000; stroke-width: 0.8; stroke-linejoin: miter; stroke-linecap: square"/>
</g>
<g id="patch_15">
<path d="M 594.291339 185.433071
L 594.291339 27.755906
" style="fill: none; stroke: #000000; stroke-width: 0.8; stroke-linejoin: miter; stroke-linecap: square"/>
</g>
<g id="patch_16">
<path d="M 425.590551 185.433071
L 594.291339 185.433071
" style="fill: none; stroke: #000000; stroke-width: 0.8; stroke-linejoin: miter; stroke-linecap: square"/>
</g>
<g id="patch_17">
<path d="M 425.590551 27.755906
L 594.291339 27.755906
" style="fill: none; stroke: #000000; stroke-width: 0.8; stroke-linejoin: miter; stroke-linecap: square"/>
</g>
<g id="title_c" transform="translate(0.000 0.236)">
<!-- Lateral [$\theta = 90^\circ$] -->
<g transform="translate(442.420945 21.755906)">
<text>
<tspan x="0" y="-0.71875" style="font-size: 16px; font-family: 'DejaVu Sans', sans-serif">L</tspan>
<tspan x="8.914062" y="-0.71875" style="font-size: 16px; font-family: 'DejaVu Sans', sans-serif">a</tspan>
<tspan x="18.71875" y="-0.71875" style="font-size: 16px; font-family: 'DejaVu Sans', sans-serif">t</tspan>
<tspan x="24.992188" y="-0.71875" style="font-size: 16px; font-family: 'DejaVu Sans', sans-serif">e</tspan>
<tspan x="34.835938" y="-0.71875" style="font-size: 16px; font-family: 'DejaVu Sans', sans-serif">r</tspan>
<tspan x="41.414062" y="-0.71875" style="font-size: 16px; font-family: 'DejaVu Sans', sans-serif">a</tspan>
<tspan x="51.21875" y="-0.71875" style="font-size: 16px; font-family: 'DejaVu Sans', sans-serif">l</tspan>
<tspan x="55.664062" y="-0.71875" style="font-size: 16px; font-family: 'DejaVu Sans', sans-serif"> </tspan>
<tspan x="60.75" y="-0.71875" style="font-size: 16px; font-family: 'DejaVu Sans', sans-serif">[</tspan>
<tspan x="79.898438" y="-0.71875" style="font-size: 16px; font-family: 'DejaVu Sans', sans-serif">=</tspan>
<tspan x="96.421875" y="-0.71875" style="font-size: 16px; font-family: 'DejaVu Sans', sans-serif">9</tspan>
<tspan x="106.601562" y="-0.71875" style="font-size: 16px; font-family: 'DejaVu Sans', sans-serif">0</tspan>
<tspan x="128.746875" y="-0.71875" style="font-size: 16px; font-family: 'DejaVu Sans', sans-serif">]</tspan>
<tspan x="66.992188" y="-0.71875" style="font-style: oblique; font-size: 16px; font-family: 'DejaVu Sans', sans-serif">θ</tspan>
<tspan x="119.116406" y="-6.84375" style="font-size: 11.2px; font-family: 'DejaVu Sans', sans-serif">∘</tspan>
</text>
</g>
</g>
</g>
<g id="axes_4">
<g id="patch_18">
<path d="M 617.322835 185.433071
L 786.023622 185.433071
L 786.023622 27.755906
L 617.322835 27.755906
z
" style="fill: #e5e5e5"/>
</g>
<g id="line2d_175">
<path d="M 617.322835 62.795276
L 786.023622 62.795276
" clip-path="url(#p5be4a97681)" style="fill: none; stroke-dasharray: 3.7,1.6; stroke-dashoffset: 0; stroke: #5f5f5f"/>
</g>
<g id="FillBetweenPolyCollection_10">
<defs>
<path id="m58e010914e" d="M 621.021335 -120.464591
L 621.021335 -114.297876
L 645.353075 -134.192413
L 669.684816 -159.289605
L 683.917972 -173.552606
L 694.016557 -181.878887
L 701.849628 -187.500265
L 726.181369 -197.220016
L 750.51311 -198.944127
L 764.746266 -198.944127
L 774.844851 -198.944127
L 782.677922 -198.944127
L 782.677922 -199.218602
L 782.677922 -199.218602
L 774.844851 -199.218602
L 764.746266 -199.218602
L 750.51311 -199.218602
L 726.181369 -198.197963
L 701.849628 -190.047636
L 694.016557 -184.982005
L 683.917972 -177.306974
L 669.684816 -163.888873
L 645.353075 -139.814149
L 621.021335 -120.464591
z
"/>
</defs>
<g clip-path="url(#p5be4a97681)">
<use href="#m58e010914e" x="0" y="232.677165" style="fill: #377eb8; fill-opacity: 0.15"/>
</g>
</g>
<g id="FillBetweenPolyCollection_11">
<defs>
<path id="m393124165b" d="M 621.021335 -114.63044
L 621.021335 -108.335439
L 645.353075 -127.846226
L 669.684816 -153.843966
L 683.917972 -166.554585
L 694.016557 -176.460741
L 701.849628 -183.132905
L 726.181369 -194.817771
L 750.51311 -198.41899
L 764.746266 -198.944127
L 774.844851 -198.944127
L 782.677922 -198.944127
L 782.677922 -199.218602
L 782.677922 -199.218602
L 774.844851 -199.218602
L 764.746266 -199.218602
L 750.51311 -198.984553
L 726.181369 -196.337084
L 701.849628 -186.122345
L 694.016557 -180.005139
L 683.917972 -170.756438
L 669.684816 -158.705903
L 645.353075 -133.662961
L 621.021335 -114.63044
z
"/>
</defs>
<g clip-path="url(#p5be4a97681)">
<use href="#m393124165b" x="0" y="232.677165" style="fill-opacity: 0.15"/>
</g>
</g>
<g id="FillBetweenPolyCollection_12">
<defs>
<path id="m1f6bbfd56a" d="M 621.021335 -85.255399
L 621.021335 -79.486727
L 645.353075 -91.084084
L 669.684816 -108.122225
L 683.917972 -119.811223
L 694.016557 -128.456189
L 701.849628 -136.345368
L 726.181369 -162.534914
L 750.51311 -182.340543
L 764.746266 -191.218353
L 774.844851 -194.737617
L 782.677922 -196.460404
L 782.677922 -199.24957
L 782.677922 -199.24957
L 774.844851 -197.760415
L 764.746266 -194.563799
L 750.51311 -186.213919
L 726.181369 -167.125847
L 701.849628 -141.515524
L 694.016557 -133.753785
L 683.917972 -125.22946
L 669.684816 -113.675675
L 645.353075 -96.784026
L 621.021335 -85.255399
z
"/>
</defs>
<g clip-path="url(#p5be4a97681)">
<use href="#m1f6bbfd56a" x="0" y="232.677165" style="fill: #4daf4a; fill-opacity: 0.15"/>
</g>
</g>
<g id="matplotlib.axis_7">
<g id="xtick_61">
<g id="line2d_176">
<path d="M 621.021335 185.433071
L 621.021335 27.755906
" clip-path="url(#p5be4a97681)" style="fill: none; stroke: #b0b0b0; stroke-opacity: 0.27; stroke-linecap: square"/>
</g>
<g id="line2d_177">
<g>
<use href="#m1504cfccaf" x="621.021335" y="185.433071" style="stroke: #000000; stroke-width: 0.8"/>
</g>
</g>
<g id="text_19">
<!-- $\mathdefault{10^{6}}$ -->
<g transform="translate(612.221335 200.031508) translate(0 -3.2828) scale(1 1.0300) translate(0 3.2828)">
<text>
<tspan x="0" y="0.3622" style="font-size: 10px; font-family: 'DejaVu Sans', sans-serif">1</tspan>
<tspan x="6.362305" y="0.3622" style="font-size: 10px; font-family: 'DejaVu Sans', sans-serif">0</tspan>
<tspan x="12.820312" y="-3.3159" style="font-size: 7px; font-family: 'DejaVu Sans', sans-serif">6</tspan>
</text>
</g>
</g>
</g>
<g id="xtick_62">
<g id="line2d_178">
<path d="M 701.849628 185.433071
L 701.849628 27.755906
" clip-path="url(#p5be4a97681)" style="fill: none; stroke: #b0b0b0; stroke-opacity: 0.27; stroke-linecap: square"/>
</g>
<g id="line2d_179">
<g>
<use href="#m1504cfccaf" x="701.849628" y="185.433071" style="stroke: #000000; stroke-width: 0.8"/>
</g>
</g>
<g id="text_20">
<!-- $\mathdefault{10^{7}}$ -->
<g transform="translate(693.049628 200.031508) translate(0 -3.2828) scale(1 1.0300) translate(0 3.2828)">
<text>
<tspan x="0" y="0.3622" style="font-size: 10px; font-family: 'DejaVu Sans', sans-serif">1</tspan>
<tspan x="6.362305" y="0.3622" style="font-size: 10px; font-family: 'DejaVu Sans', sans-serif">0</tspan>
<tspan x="12.820312" y="-3.3159" style="font-size: 7px; font-family: 'DejaVu Sans', sans-serif">7</tspan>
</text>
</g>
</g>
</g>
<g id="xtick_63">
<g id="line2d_180">
<path d="M 782.677922 185.433071
L 782.677922 27.755906
" clip-path="url(#p5be4a97681)" style="fill: none; stroke: #b0b0b0; stroke-opacity: 0.27; stroke-linecap: square"/>
</g>
<g id="line2d_181">
<g>
<use href="#m1504cfccaf" x="782.677922" y="185.433071" style="stroke: #000000; stroke-width: 0.8"/>
</g>
</g>
<g id="text_21">
<!-- $\mathdefault{10^{8}}$ -->
<g transform="translate(773.877922 200.031508) translate(0 -3.2828) scale(1 1.0300) translate(0 3.2828)">
<text>
<tspan x="0" y="0.3622" style="font-size: 10px; font-family: 'DejaVu Sans', sans-serif">1</tspan>
<tspan x="6.362305" y="0.3622" style="font-size: 10px; font-family: 'DejaVu Sans', sans-serif">0</tspan>
<tspan x="12.820312" y="-3.3159" style="font-size: 7px; font-family: 'DejaVu Sans', sans-serif">8</tspan>
</text>
</g>
</g>
</g>
<g id="xtick_64">
<g id="line2d_182">
<path d="M 617.322835 185.433071
L 617.322835 27.755906
" clip-path="url(#p5be4a97681)" style="fill: none; stroke: #b0b0b0; stroke-opacity: 0.1; stroke-linecap: square"/>
</g>
<g id="line2d_183">
<g>
<use href="#m05db3bdf9b" x="617.322835" y="185.433071" style="stroke: #000000; stroke-width: 0.6"/>
</g>
</g>
</g>
<g id="xtick_65">
<g id="line2d_184">
<path d="M 645.353075 185.433071
L 645.353075 27.755906
" clip-path="url(#p5be4a97681)" style="fill: none; stroke: #b0b0b0; stroke-opacity: 0.1; stroke-linecap: square"/>
</g>
<g id="line2d_185">
<g>
<use href="#m05db3bdf9b" x="645.353075" y="185.433071" style="stroke: #000000; stroke-width: 0.6"/>
</g>
</g>
</g>
<g id="xtick_66">
<g id="line2d_186">
<path d="M 659.586231 185.433071
L 659.586231 27.755906
" clip-path="url(#p5be4a97681)" style="fill: none; stroke: #b0b0b0; stroke-opacity: 0.1; stroke-linecap: square"/>
</g>
<g id="line2d_187">
<g>
<use href="#m05db3bdf9b" x="659.586231" y="185.433071" style="stroke: #000000; stroke-width: 0.6"/>
</g>
</g>
</g>
<g id="xtick_67">
<g id="line2d_188">
<path d="M 669.684816 185.433071
L 669.684816 27.755906
" clip-path="url(#p5be4a97681)" style="fill: none; stroke: #b0b0b0; stroke-opacity: 0.1; stroke-linecap: square"/>
</g>
<g id="line2d_189">
<g>
<use href="#m05db3bdf9b" x="669.684816" y="185.433071" style="stroke: #000000; stroke-width: 0.6"/>
</g>
</g>
</g>
<g id="xtick_68">
<g id="line2d_190">
<path d="M 677.517887 185.433071
L 677.517887 27.755906
" clip-path="url(#p5be4a97681)" style="fill: none; stroke: #b0b0b0; stroke-opacity: 0.1; stroke-linecap: square"/>
</g>
<g id="line2d_191">
<g>
<use href="#m05db3bdf9b" x="677.517887" y="185.433071" style="stroke: #000000; stroke-width: 0.6"/>
</g>
</g>
</g>
<g id="xtick_69">
<g id="line2d_192">
<path d="M 683.917972 185.433071
L 683.917972 27.755906
" clip-path="url(#p5be4a97681)" style="fill: none; stroke: #b0b0b0; stroke-opacity: 0.1; stroke-linecap: square"/>
</g>
<g id="line2d_193">
<g>
<use href="#m05db3bdf9b" x="683.917972" y="185.433071" style="stroke: #000000; stroke-width: 0.6"/>
</g>
</g>
</g>
<g id="xtick_70">
<g id="line2d_194">
<path d="M 689.329167 185.433071
L 689.329167 27.755906
" clip-path="url(#p5be4a97681)" style="fill: none; stroke: #b0b0b0; stroke-opacity: 0.1; stroke-linecap: square"/>
</g>
<g id="line2d_195">
<g>
<use href="#m05db3bdf9b" x="689.329167" y="185.433071" style="stroke: #000000; stroke-width: 0.6"/>
</g>
</g>
</g>
<g id="xtick_71">
<g id="line2d_196">
<path d="M 694.016557 185.433071
L 694.016557 27.755906
" clip-path="url(#p5be4a97681)" style="fill: none; stroke: #b0b0b0; stroke-opacity: 0.1; stroke-linecap: square"/>
</g>
<g id="line2d_197">
<g>
<use href="#m05db3bdf9b" x="694.016557" y="185.433071" style="stroke: #000000; stroke-width: 0.6"/>
</g>
</g>
</g>
<g id="xtick_72">
<g id="line2d_198">
<path d="M 698.151128 185.433071
L 698.151128 27.755906
" clip-path="url(#p5be4a97681)" style="fill: none; stroke: #b0b0b0; stroke-opacity: 0.1; stroke-linecap: square"/>
</g>
<g id="line2d_199">
<g>
<use href="#m05db3bdf9b" x="698.151128" y="185.433071" style="stroke: #000000; stroke-width: 0.6"/>
</g>
</g>
</g>
<g id="xtick_73">
<g id="line2d_200">
<path d="M 726.181369 185.433071
L 726.181369 27.755906
" clip-path="url(#p5be4a97681)" style="fill: none; stroke: #b0b0b0; stroke-opacity: 0.1; stroke-linecap: square"/>
</g>
<g id="line2d_201">
<g>
<use href="#m05db3bdf9b" x="726.181369" y="185.433071" style="stroke: #000000; stroke-width: 0.6"/>
</g>
</g>
</g>
<g id="xtick_74">
<g id="line2d_202">
<path d="M 740.414525 185.433071
L 740.414525 27.755906
" clip-path="url(#p5be4a97681)" style="fill: none; stroke: #b0b0b0; stroke-opacity: 0.1; stroke-linecap: square"/>
</g>
<g id="line2d_203">
<g>
<use href="#m05db3bdf9b" x="740.414525" y="185.433071" style="stroke: #000000; stroke-width: 0.6"/>
</g>
</g>
</g>
<g id="xtick_75">
<g id="line2d_204">
<path d="M 750.51311 185.433071
L 750.51311 27.755906
" clip-path="url(#p5be4a97681)" style="fill: none; stroke: #b0b0b0; stroke-opacity: 0.1; stroke-linecap: square"/>
</g>
<g id="line2d_205">
<g>
<use href="#m05db3bdf9b" x="750.51311" y="185.433071" style="stroke: #000000; stroke-width: 0.6"/>
</g>
</g>
</g>
<g id="xtick_76">
<g id="line2d_206">
<path d="M 758.346181 185.433071
L 758.346181 27.755906
" clip-path="url(#p5be4a97681)" style="fill: none; stroke: #b0b0b0; stroke-opacity: 0.1; stroke-linecap: square"/>
</g>
<g id="line2d_207">
<g>
<use href="#m05db3bdf9b" x="758.346181" y="185.433071" style="stroke: #000000; stroke-width: 0.6"/>
</g>
</g>
</g>
<g id="xtick_77">
<g id="line2d_208">
<path d="M 764.746266 185.433071
L 764.746266 27.755906
" clip-path="url(#p5be4a97681)" style="fill: none; stroke: #b0b0b0; stroke-opacity: 0.1; stroke-linecap: square"/>
</g>
<g id="line2d_209">
<g>
<use href="#m05db3bdf9b" x="764.746266" y="185.433071" style="stroke: #000000; stroke-width: 0.6"/>
</g>
</g>
</g>
<g id="xtick_78">
<g id="line2d_210">
<path d="M 770.157461 185.433071
L 770.157461 27.755906
" clip-path="url(#p5be4a97681)" style="fill: none; stroke: #b0b0b0; stroke-opacity: 0.1; stroke-linecap: square"/>
</g>
<g id="line2d_211">
<g>
<use href="#m05db3bdf9b" x="770.157461" y="185.433071" style="stroke: #000000; stroke-width: 0.6"/>
</g>
</g>
</g>
<g id="xtick_79">
<g id="line2d_212">
<path d="M 774.844851 185.433071
L 774.844851 27.755906
" clip-path="url(#p5be4a97681)" style="fill: none; stroke: #b0b0b0; stroke-opacity: 0.1; stroke-linecap: square"/>
</g>
<g id="line2d_213">
<g>
<use href="#m05db3bdf9b" x="774.844851" y="185.433071" style="stroke: #000000; stroke-width: 0.6"/>
</g>
</g>
</g>
<g id="xtick_80">
<g id="line2d_214">
<path d="M 778.979422 185.433071
L 778.979422 27.755906
" clip-path="url(#p5be4a97681)" style="fill: none; stroke: #b0b0b0; stroke-opacity: 0.1; stroke-linecap: square"/>
</g>
<g id="line2d_215">
<g>
<use href="#m05db3bdf9b" x="778.979422" y="185.433071" style="stroke: #000000; stroke-width: 0.6"/>
</g>
</g>
</g>
</g>
<g id="matplotlib.axis_8">
<g id="ytick_19">
<g id="line2d_216">
<path d="M 617.322835 179.593176
L 786.023622 179.593176
" clip-path="url(#p5be4a97681)" style="fill: none; stroke: #b0b0b0; stroke-opacity: 0.27; stroke-linecap: square"/>
</g>
<g id="line2d_217">
<g>
<use href="#m5d545ce8f8" x="617.322835" y="179.593176" style="stroke: #000000; stroke-width: 0.8"/>
</g>
</g>
</g>
<g id="ytick_20">
<g id="line2d_218">
<path d="M 617.322835 150.393701
L 786.023622 150.393701
" clip-path="url(#p5be4a97681)" style="fill: none; stroke: #b0b0b0; stroke-opacity: 0.27; stroke-linecap: square"/>
</g>
<g id="line2d_219">
<g>
<use href="#m5d545ce8f8" x="617.322835" y="150.393701" style="stroke: #000000; stroke-width: 0.8"/>
</g>
</g>
</g>
<g id="ytick_21">
<g id="line2d_220">
<path d="M 617.322835 121.194226
L 786.023622 121.194226
" clip-path="url(#p5be4a97681)" style="fill: none; stroke: #b0b0b0; stroke-opacity: 0.27; stroke-linecap: square"/>
</g>
<g id="line2d_221">
<g>
<use href="#m5d545ce8f8" x="617.322835" y="121.194226" style="stroke: #000000; stroke-width: 0.8"/>
</g>
</g>
</g>
<g id="ytick_22">
<g id="line2d_222">
<path d="M 617.322835 91.994751
L 786.023622 91.994751
" clip-path="url(#p5be4a97681)" style="fill: none; stroke: #b0b0b0; stroke-opacity: 0.27; stroke-linecap: square"/>
</g>
<g id="line2d_223">
<g>
<use href="#m5d545ce8f8" x="617.322835" y="91.994751" style="stroke: #000000; stroke-width: 0.8"/>
</g>
</g>
</g>
<g id="ytick_23">
<g id="line2d_224">
<path d="M 617.322835 62.795276
L 786.023622 62.795276
" clip-path="url(#p5be4a97681)" style="fill: none; stroke: #b0b0b0; stroke-opacity: 0.27; stroke-linecap: square"/>
</g>
<g id="line2d_225">
<g>
<use href="#m5d545ce8f8" x="617.322835" y="62.795276" style="stroke: #000000; stroke-width: 0.8"/>
</g>
</g>
</g>
<g id="ytick_24">
<g id="line2d_226">
<path d="M 617.322835 33.595801
L 786.023622 33.595801
" clip-path="url(#p5be4a97681)" style="fill: none; stroke: #b0b0b0; stroke-opacity: 0.27; stroke-linecap: square"/>
</g>
<g id="line2d_227">
<g>
<use href="#m5d545ce8f8" x="617.322835" y="33.595801" style="stroke: #000000; stroke-width: 0.8"/>
</g>
</g>
</g>
</g>
<g id="LineCollection_13">
<path d="M 621.021335 117.454282
L 621.021335 113.137581
" clip-path="url(#p5be4a97681)" style="fill: none; stroke: #377eb8"/>
<path d="M 645.353075 97.641492
L 645.353075 93.706277
" clip-path="url(#p5be4a97681)" style="fill: none; stroke: #377eb8"/>
<path d="M 669.684816 72.69767
L 669.684816 69.478183
" clip-path="url(#p5be4a97681)" style="fill: none; stroke: #377eb8"/>
<path d="M 683.917972 58.561404
L 683.917972 55.933346
" clip-path="url(#p5be4a97681)" style="fill: none; stroke: #377eb8"/>
<path d="M 694.016557 50.33281
L 694.016557 48.160628
" clip-path="url(#p5be4a97681)" style="fill: none; stroke: #377eb8"/>
<path d="M 701.849628 44.794795
L 701.849628 43.011635
" clip-path="url(#p5be4a97681)" style="fill: none; stroke: #377eb8"/>
<path d="M 726.181369 35.310457
L 726.181369 34.625894
" clip-path="url(#p5be4a97681)" style="fill: none; stroke: #377eb8"/>
<path d="M 750.51311 33.691867
L 750.51311 33.499734
" clip-path="url(#p5be4a97681)" style="fill: none; stroke: #377eb8"/>
<path d="M 764.746266 33.691867
L 764.746266 33.499734
" clip-path="url(#p5be4a97681)" style="fill: none; stroke: #377eb8"/>
<path d="M 774.844851 33.691867
L 774.844851 33.499734
" clip-path="url(#p5be4a97681)" style="fill: none; stroke: #377eb8"/>
<path d="M 782.677922 33.691867
L 782.677922 33.499734
" clip-path="url(#p5be4a97681)" style="fill: none; stroke: #377eb8"/>
</g>
<g id="LineCollection_14">
<path d="M 621.021335 123.397476
L 621.021335 118.990976
" clip-path="url(#p5be4a97681)" style="fill: none; stroke: #000000"/>
<path d="M 645.353075 103.958429
L 645.353075 99.886715
" clip-path="url(#p5be4a97681)" style="fill: none; stroke: #000000"/>
<path d="M 669.684816 78.103909
L 669.684816 74.700553
" clip-path="url(#p5be4a97681)" style="fill: none; stroke: #000000"/>
<path d="M 683.917972 65.492302
L 683.917972 62.551005
" clip-path="url(#p5be4a97681)" style="fill: none; stroke: #000000"/>
<path d="M 694.016557 55.684765
L 694.016557 53.203686
" clip-path="url(#p5be4a97681)" style="fill: none; stroke: #000000"/>
<path d="M 701.849628 49.095845
L 701.849628 47.003237
" clip-path="url(#p5be4a97681)" style="fill: none; stroke: #000000"/>
<path d="M 726.181369 37.631497
L 726.181369 36.567978
" clip-path="url(#p5be4a97681)" style="fill: none; stroke: #000000"/>
<path d="M 750.51311 34.173341
L 750.51311 33.777446
" clip-path="url(#p5be4a97681)" style="fill: none; stroke: #000000"/>
<path d="M 764.746266 33.691867
L 764.746266 33.499734
" clip-path="url(#p5be4a97681)" style="fill: none; stroke: #000000"/>
<path d="M 774.844851 33.691867
L 774.844851 33.499734
" clip-path="url(#p5be4a97681)" style="fill: none; stroke: #000000"/>
<path d="M 782.677922 33.691867
L 782.677922 33.499734
" clip-path="url(#p5be4a97681)" style="fill: none; stroke: #000000"/>
</g>
<g id="LineCollection_15">
<path d="M 621.021335 152.325137
L 621.021335 148.287067
" clip-path="url(#p5be4a97681)" style="fill: none; stroke: #4daf4a"/>
<path d="M 645.353075 140.73809
L 645.353075 136.748131
" clip-path="url(#p5be4a97681)" style="fill: none; stroke: #4daf4a"/>
<path d="M 669.684816 123.721923
L 669.684816 119.834508
" clip-path="url(#p5be4a97681)" style="fill: none; stroke: #4daf4a"/>
<path d="M 683.917972 112.053207
L 683.917972 108.260441
" clip-path="url(#p5be4a97681)" style="fill: none; stroke: #4daf4a"/>
<path d="M 694.016557 103.426337
L 694.016557 99.71802
" clip-path="url(#p5be4a97681)" style="fill: none; stroke: #4daf4a"/>
<path d="M 701.849628 95.556274
L 701.849628 91.937165
" clip-path="url(#p5be4a97681)" style="fill: none; stroke: #4daf4a"/>
<path d="M 726.181369 69.453612
L 726.181369 66.239958
" clip-path="url(#p5be4a97681)" style="fill: none; stroke: #4daf4a"/>
<path d="M 750.51311 49.755616
L 750.51311 47.044253
" clip-path="url(#p5be4a97681)" style="fill: none; stroke: #4daf4a"/>
<path d="M 764.746266 40.956995
L 764.746266 38.615183
" clip-path="url(#p5be4a97681)" style="fill: none; stroke: #4daf4a"/>
<path d="M 774.844851 37.486129
L 774.844851 35.37017
" clip-path="url(#p5be4a97681)" style="fill: none; stroke: #4daf4a"/>
<path d="M 782.677922 35.798386
L 782.677922 33.845971
" clip-path="url(#p5be4a97681)" style="fill: none; stroke: #4daf4a"/>
</g>
<g id="line2d_228">
<path d="M 621.021335 115.295932
L 645.353075 95.673885
L 669.684816 71.087927
L 683.917972 57.247375
L 694.016557 49.246719
L 701.849628 43.903215
L 726.181369 34.968176
L 750.51311 33.595801
L 764.746266 33.595801
L 774.844851 33.595801
L 782.677922 33.595801
" clip-path="url(#p5be4a97681)" style="fill: none; stroke: #377eb8; stroke-linecap: square"/>
<g clip-path="url(#p5be4a97681)">
<use href="#mbeab2f4ac7" x="621.021335" y="115.295932" style="fill: #377eb8; stroke: #377eb8"/>
<use href="#mbeab2f4ac7" x="645.353075" y="95.673885" style="fill: #377eb8; stroke: #377eb8"/>
<use href="#mbeab2f4ac7" x="669.684816" y="71.087927" style="fill: #377eb8; stroke: #377eb8"/>
<use href="#mbeab2f4ac7" x="683.917972" y="57.247375" style="fill: #377eb8; stroke: #377eb8"/>
<use href="#mbeab2f4ac7" x="694.016557" y="49.246719" style="fill: #377eb8; stroke: #377eb8"/>
<use href="#mbeab2f4ac7" x="701.849628" y="43.903215" style="fill: #377eb8; stroke: #377eb8"/>
<use href="#mbeab2f4ac7" x="726.181369" y="34.968176" style="fill: #377eb8; stroke: #377eb8"/>
<use href="#mbeab2f4ac7" x="750.51311" y="33.595801" style="fill: #377eb8; stroke: #377eb8"/>
<use href="#mbeab2f4ac7" x="764.746266" y="33.595801" style="fill: #377eb8; stroke: #377eb8"/>
<use href="#mbeab2f4ac7" x="774.844851" y="33.595801" style="fill: #377eb8; stroke: #377eb8"/>
<use href="#mbeab2f4ac7" x="782.677922" y="33.595801" style="fill: #377eb8; stroke: #377eb8"/>
</g>
</g>
<g id="line2d_229">
<path d="M 621.021335 121.194226
L 645.353075 101.922572
L 669.684816 76.402231
L 683.917972 64.021654
L 694.016557 54.444226
L 701.849628 48.049541
L 726.181369 37.099738
L 750.51311 33.975394
L 764.746266 33.595801
L 774.844851 33.595801
L 782.677922 33.595801
" clip-path="url(#p5be4a97681)" style="fill: none; stroke: #000000; stroke-linecap: square"/>
<g clip-path="url(#p5be4a97681)">
<use href="#m93d858a820" x="621.021335" y="121.194226" style="stroke: #000000; stroke-linejoin: miter"/>
<use href="#m93d858a820" x="645.353075" y="101.922572" style="stroke: #000000; stroke-linejoin: miter"/>
<use href="#m93d858a820" x="669.684816" y="76.402231" style="stroke: #000000; stroke-linejoin: miter"/>
<use href="#m93d858a820" x="683.917972" y="64.021654" style="stroke: #000000; stroke-linejoin: miter"/>
<use href="#m93d858a820" x="694.016557" y="54.444226" style="stroke: #000000; stroke-linejoin: miter"/>
<use href="#m93d858a820" x="701.849628" y="48.049541" style="stroke: #000000; stroke-linejoin: miter"/>
<use href="#m93d858a820" x="726.181369" y="37.099738" style="stroke: #000000; stroke-linejoin: miter"/>
<use href="#m93d858a820" x="750.51311" y="33.975394" style="stroke: #000000; stroke-linejoin: miter"/>
<use href="#m93d858a820" x="764.746266" y="33.595801" style="stroke: #000000; stroke-linejoin: miter"/>
<use href="#m93d858a820" x="774.844851" y="33.595801" style="stroke: #000000; stroke-linejoin: miter"/>
<use href="#m93d858a820" x="782.677922" y="33.595801" style="stroke: #000000; stroke-linejoin: miter"/>
</g>
</g>
<g id="line2d_230">
<path d="M 621.021335 150.306102
L 645.353075 138.74311
L 669.684816 121.778215
L 683.917972 110.156824
L 694.016557 101.572178
L 701.849628 93.746719
L 726.181369 67.846785
L 750.51311 48.399934
L 764.746266 39.786089
L 774.844851 36.42815
L 782.677922 34.822178
" clip-path="url(#p5be4a97681)" style="fill: none; stroke: #4daf4a; stroke-linecap: square"/>
<g clip-path="url(#p5be4a97681)">
<use href="#me54bdaed13" x="621.021335" y="150.306102" style="fill: #4daf4a; stroke: #4daf4a; stroke-linejoin: miter"/>
<use href="#me54bdaed13" x="645.353075" y="138.74311" style="fill: #4daf4a; stroke: #4daf4a; stroke-linejoin: miter"/>
<use href="#me54bdaed13" x="669.684816" y="121.778215" style="fill: #4daf4a; stroke: #4daf4a; stroke-linejoin: miter"/>
<use href="#me54bdaed13" x="683.917972" y="110.156824" style="fill: #4daf4a; stroke: #4daf4a; stroke-linejoin: miter"/>
<use href="#me54bdaed13" x="694.016557" y="101.572178" style="fill: #4daf4a; stroke: #4daf4a; stroke-linejoin: miter"/>
<use href="#me54bdaed13" x="701.849628" y="93.746719" style="fill: #4daf4a; stroke: #4daf4a; stroke-linejoin: miter"/>
<use href="#me54bdaed13" x="726.181369" y="67.846785" style="fill: #4daf4a; stroke: #4daf4a; stroke-linejoin: miter"/>
<use href="#me54bdaed13" x="750.51311" y="48.399934" style="fill: #4daf4a; stroke: #4daf4a; stroke-linejoin: miter"/>
<use href="#me54bdaed13" x="764.746266" y="39.786089" style="fill: #4daf4a; stroke: #4daf4a; stroke-linejoin: miter"/>
<use href="#me54bdaed13" x="774.844851" y="36.42815" style="fill: #4daf4a; stroke: #4daf4a; stroke-linejoin: miter"/>
<use href="#me54bdaed13" x="782.677922" y="34.822178" style="fill: #4daf4a; stroke: #4daf4a; stroke-linejoin: miter"/>
</g>
</g>
<g id="patch_19">
<path d="M 617.322835 185.433071
L 617.322835 27.755906
" style="fill: none; stroke: #000000; stroke-width: 0.8; stroke-linejoin: miter; stroke-linecap: square"/>
</g>
<g id="patch_20">
<path d="M 786.023622 185.433071
L 786.023622 27.755906
" style="fill: none; stroke: #000000; stroke-width: 0.8; stroke-linejoin: miter; stroke-linecap: square"/>
</g>
<g id="patch_21">
<path d="M 617.322835 185.433071
L 786.023622 185.433071
" style="fill: none; stroke: #000000; stroke-width: 0.8; stroke-linejoin: miter; stroke-linecap: square"/>
</g>
<g id="patch_22">
<path d="M 617.322835 27.755906
L 786.023622 27.755906
" style="fill: none; stroke: #000000; stroke-width: 0.8; stroke-linejoin: miter; stroke-linecap: square"/>
</g>
<g id="title_d" transform="translate(0.000 0.236)">
<!-- Lateral [$\theta = 90^\circ$] -->
<g transform="translate(634.153228 21.755906)">
<text>
<tspan x="0" y="-0.71875" style="font-size: 16px; font-family: 'DejaVu Sans', sans-serif">L</tspan>
<tspan x="8.914062" y="-0.71875" style="font-size: 16px; font-family: 'DejaVu Sans', sans-serif">a</tspan>
<tspan x="18.71875" y="-0.71875" style="font-size: 16px; font-family: 'DejaVu Sans', sans-serif">t</tspan>
<tspan x="24.992188" y="-0.71875" style="font-size: 16px; font-family: 'DejaVu Sans', sans-serif">e</tspan>
<tspan x="34.835938" y="-0.71875" style="font-size: 16px; font-family: 'DejaVu Sans', sans-serif">r</tspan>
<tspan x="41.414062" y="-0.71875" style="font-size: 16px; font-family: 'DejaVu Sans', sans-serif">a</tspan>
<tspan x="51.21875" y="-0.71875" style="font-size: 16px; font-family: 'DejaVu Sans', sans-serif">l</tspan>
<tspan x="55.664062" y="-0.71875" style="font-size: 16px; font-family: 'DejaVu Sans', sans-serif"> </tspan>
<tspan x="60.75" y="-0.71875" style="font-size: 16px; font-family: 'DejaVu Sans', sans-serif">[</tspan>
<tspan x="79.898438" y="-0.71875" style="font-size: 16px; font-family: 'DejaVu Sans', sans-serif">=</tspan>
<tspan x="96.421875" y="-0.71875" style="font-size: 16px; font-family: 'DejaVu Sans', sans-serif">9</tspan>
<tspan x="106.601562" y="-0.71875" style="font-size: 16px; font-family: 'DejaVu Sans', sans-serif">0</tspan>
<tspan x="128.746875" y="-0.71875" style="font-size: 16px; font-family: 'DejaVu Sans', sans-serif">]</tspan>
<tspan x="66.992188" y="-0.71875" style="font-style: oblique; font-size: 16px; font-family: 'DejaVu Sans', sans-serif">θ</tspan>
<tspan x="119.116406" y="-6.84375" style="font-size: 11.2px; font-family: 'DejaVu Sans', sans-serif">∘</tspan>
</text>
</g>
</g>
</g>
<g id="plabel_a">
<text style="font-weight: 700; font-size: 18px; font-family: 'DejaVu Sans', 'Liberation Sans', sans-serif; text-anchor: middle" x="193.956693" y="179.488189" transform="rotate(-0 193.956693 179.488189)">(a)</text>
</g>
<g id="plabel_b">
<text style="font-weight: 700; font-size: 18px; font-family: 'DejaVu Sans', 'Liberation Sans', sans-serif; text-anchor: middle" x="385.688976" y="179.488189" transform="rotate(-0 385.688976 179.488189)">(b)</text>
</g>
<g id="plabel_c">
<text style="font-weight: 700; font-size: 18px; font-family: 'DejaVu Sans', 'Liberation Sans', sans-serif; text-anchor: middle" x="577.42126" y="179.488189" transform="rotate(-0 577.42126 179.488189)">(c)</text>
</g>
<g id="plabel_d">
<text style="font-weight: 700; font-size: 18px; font-family: 'DejaVu Sans', 'Liberation Sans', sans-serif; text-anchor: middle" x="769.153543" y="179.488189" transform="rotate(-0 769.153543 179.488189)">(d)</text>
</g>
<g id="xlabel" transform="translate(-0.591 0.000)">
<text style="font-size: 16px; font-family: 'DejaVu Sans', 'Liberation Sans', sans-serif; text-anchor: middle" x="400.787402" y="229.566929" transform="rotate(-0 400.787402 229.566929)">Protons per spot</text>
</g>
</g>
<defs>
<clipPath id="pc32dbdda73">
<rect x="42.125984" y="27.755906" width="168.700787" height="157.677165"/>
</clipPath>
<clipPath id="p52d056ecf1">
<rect x="233.858268" y="27.755906" width="168.700787" height="157.677165"/>
</clipPath>
<clipPath id="pb7c58cf584">
<rect x="425.590551" y="27.755906" width="168.700787" height="157.677165"/>
</clipPath>
<clipPath id="p5be4a97681">
<rect x="617.322835" y="27.755906" width="168.700787" height="157.677165"/>
</clipPath>
</defs>
</svg>

</body></html>
